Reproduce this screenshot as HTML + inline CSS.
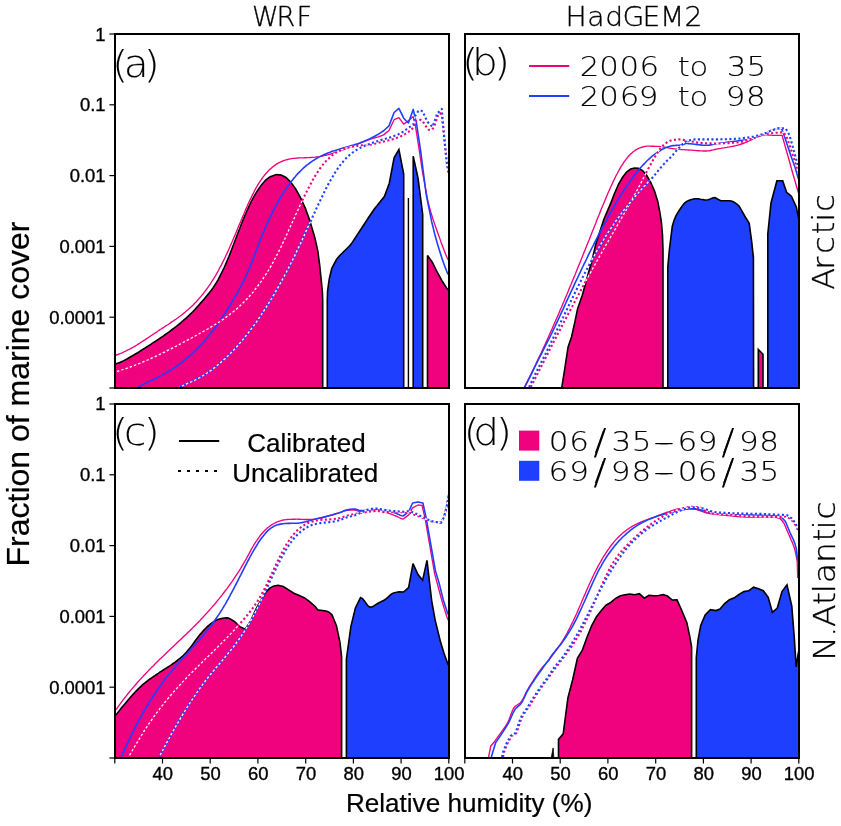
<!DOCTYPE html>
<html lang="en">
<head>
<meta charset="utf-8">
<title>Fraction of marine cover vs relative humidity</title>
<style>
html,body{margin:0;padding:0;background:#fff;}
body{width:841px;height:826px;overflow:hidden;font-family:"Liberation Sans",sans-serif;}
svg{display:block;}
</style>
</head>
<body>
<svg width="841" height="826" viewBox="0 0 841 826" role="img" aria-label="Fraction of marine cover versus relative humidity">
<rect width="841" height="826" fill="#fff"/>
<g id="panel-a">
<clipPath id="clip-a"><rect x="115" y="34" width="334" height="354"/></clipPath>
<g clip-path="url(#clip-a)">
<path d="M115 388 L115 364.3 L116.8 363.6 L118.5 362.9 L120.3 362.2 L122.1 361.4 L123.8 360.6 L125.6 359.7 L127.3 358.8 L129 357.8 L130.7 356.8 L132.5 355.8 L134.2 354.8 L135.9 353.8 L137.7 352.7 L139.4 351.6 L141.1 350.5 L142.8 349.4 L144.6 348.3 L146.3 347.2 L148 346.1 L149.8 345 L151.5 343.9 L153.2 342.7 L154.9 341.6 L156.7 340.5 L158.4 339.3 L160.1 338.1 L161.9 336.9 L163.6 335.8 L165.3 334.5 L167 333.3 L168.8 332.1 L170.5 330.8 L172.2 329.5 L174 328.2 L175.7 326.9 L177.4 325.5 L179.1 324.1 L180.9 322.7 L182.6 321.2 L184.3 319.7 L186.1 318.1 L187.8 316.5 L189.5 314.9 L191.2 313.2 L193 311.5 L194.7 309.7 L196.4 307.8 L198.2 305.9 L199.9 303.9 L201.7 301.9 L203.4 299.9 L205.2 297.8 L206.9 295.7 L211.5 290 L213.2 287.6 L214.8 285.1 L216.5 282.5 L218.2 279.6 L224.2 267.5 L225.7 264.1 L227.2 260.5 L228.8 256.8 L230.3 253 L236.3 237.2 L237.8 233.2 L239.4 229.2 L240.9 225.3 L242.4 221.5 L244.2 217.1 L246.1 212.7 L247.9 208.6 L249.7 204.7 L251.5 201.1 L253.3 197.6 L255.2 194.4 L257 191.4 L258.8 188.7 L260.6 186.1 L262.4 183.7 L264.2 181.7 L265.7 180.2 L267.2 178.8 L268.8 177.6 L270.3 176.7 L276.3 174.5 L281.2 175.1 L286 177.5 L290.8 182.3 L295.7 189 L300.5 197.5 L305.4 208.4 L309.6 220 L314.8 237.5 L317.8 250.8 L319.7 265.4 L321.2 279.9 L322.4 292 L322.7 300 L322.7 388" fill="#f0027f" stroke="#000" stroke-width="1.6" stroke-linejoin="miter" stroke-miterlimit="3"/>
<path d="M327.3 388 L327.3 300 L327.6 290.8 L329.3 278.7 L331.8 268.4 L336.6 259.3 L338.3 257.2 L340 255.3 L341.6 253.7 L343.3 252 L345.1 250.2 L346.9 248.5 L348.7 246.8 L350.5 244.8 L352.3 242.4 L354.1 239.6 L356 236.7 L357.8 233.9 L359.6 231.2 L361.4 228.5 L363.2 225.7 L365 223 L366.7 220.4 L368.4 217.8 L370.1 215.2 L371.8 212.7 L373.5 210.3 L375.1 208.1 L376.8 206.1 L378.4 204 L380 202 L384.5 196.3 L389.3 183.2 L394.1 157.8 L398.9 149.5 L403.7 174.2 L403.7 388" fill="#1f3fff" stroke="#000" stroke-width="1.6" stroke-linejoin="miter" stroke-miterlimit="3"/>
<path d="M413.2 388 L413.2 156.2 L418 178 L422.7 214.5 L422.7 388" fill="#1f3fff" stroke="#000" stroke-width="1.6" stroke-linejoin="miter" stroke-miterlimit="3"/>
<path d="M427.5 388 L427.5 255.4 L432.3 262.2 L437.1 272 L441.8 280.5 L446.6 288 L449 290.5 L449 388" fill="#f0027f" stroke="#000" stroke-width="1.6" stroke-linejoin="miter" stroke-miterlimit="3"/>
<path d="M408.4 388 L408.4 198" stroke="#000" stroke-width="1.4" fill="none"/>
<path d="M115 355.5 L116.4 355 L117.8 354.5 L119.3 353.9 L120.7 353.4 L122.1 352.8 L123.4 352.2 L124.8 351.5 L126.1 350.9 L127.5 350.2 L128.8 349.5 L130.2 348.8 L131.5 348.1 L132.9 347.3 L134.2 346.6 L135.5 345.8 L136.9 345 L138.2 344.1 L139.6 343.3 L140.9 342.4 L142.3 341.5 L143.6 340.6 L145 339.8 L146.3 338.9 L147.6 338 L149 337.1 L150.3 336.2 L151.7 335.3 L153 334.4 L154.4 333.5 L155.7 332.6 L157.1 331.7 L158.4 330.8 L159.7 329.9 L161.1 329 L162.4 328.1 L163.8 327.3 L165.1 326.4 L166.5 325.5 L167.8 324.7 L169.2 323.8 L170.5 322.9 L171.8 321.9 L173.2 321 L174.5 320.1 L175.9 319.2 L177.2 318.2 L178.6 317.2 L179.9 316.2 L181.3 315.2 L182.6 314.2 L183.9 313.1 L185.3 312 L186.6 310.8 L188 309.7 L189.3 308.5 L190.7 307.3 L192 306 L193.4 304.7 L194.7 303.3 L196.1 301.9 L197.5 300.3 L198.9 298.8 L200.3 297.1 L201.8 295.4 L203.2 293.7 L204.6 291.9 L206 290 L207.4 288.1 L208.8 286.2 L210.2 284.1 L211.5 282 L212.9 279.8 L214.3 277.6 L215.7 275.3 L217.1 272.8 L218.5 270.3 L219.9 267.6 L221.4 264.9 L222.8 262.1 L224.2 259.3 L225.4 256.8 L226.6 254.1 L227.9 251.4 L229.1 248.7 L230.3 245.9 L236.3 231.9 L237.5 229 L238.7 226 L240 223.1 L241.2 220.2 L242.4 217.3 L243.9 213.9 L245.3 210.4 L246.8 207.1 L248.2 203.8 L249.7 200.6 L251.2 197.6 L252.6 194.6 L254.1 191.7 L255.5 188.9 L257 186.3 L258.4 183.9 L259.9 181.6 L261.3 179.5 L262.8 177.4 L264.2 175.6 L265.7 173.8 L267.1 172.2 L268.6 170.6 L270 169.2 L271.5 167.9 L272.9 166.7 L274.4 165.6 L275.8 164.6 L277.3 163.7 L278.7 162.9 L280.2 162.2 L281.6 161.5 L283.1 160.9 L284.5 160.4 L286 159.9 L287.5 159.5 L288.9 159.2 L290.4 158.9 L291.8 158.6 L293.3 158.4 L294.7 158.3 L296.2 158.1 L297.6 158 L299.1 157.9 L300.5 157.9 L302 157.8 L303.4 157.8 L304.9 157.7 L306.3 157.7 L307.8 157.6 L309.3 157.6 L310.7 157.5 L312.2 157.4 L313.6 157.3 L315.1 157.2 L316.5 157 L318 156.8 L319.4 156.6 L320.9 156.3 L322.3 156 L323.8 155.7 L325.2 155.4 L326.7 155 L328.1 154.7 L329.6 154.3 L331.1 153.8 L332.6 153.4 L334.1 152.9 L335.5 152.4 L337 151.9 L338.5 151.4 L340 150.9 L341.4 150.3 L342.9 149.8 L344.3 149.3 L345.7 148.7 L347.1 148.2 L348.6 147.6 L350 147 L351.4 146.5 L352.9 145.9 L354.3 145.3 L355.7 144.8 L357.1 144.2 L358.6 143.6 L360 143.1 L361.4 142.5 L362.9 142 L364.3 141.4 L365.7 140.9 L367.1 140.3 L368.6 139.8 L370 139.3 L371.4 138.8 L372.8 138.4 L374.2 138 L375.6 137.6 L376.9 137.2 L378.3 136.8 L379.7 136.3 L381.1 135.8 L382.5 135.3 L383.9 134.6 L389 130.5 L394.1 119.7 L398.9 117.6 L403.7 124.1 L408.4 120.7 L413.2 116.6 L415.3 124.8 L419.3 150.6 L422.6 172.7 L428 201.7 L429.5 207.5 L431 212.8 L432.5 217.6 L434 222.1 L435.5 226.5 L437 230.8 L438.4 234.8 L439.8 238.6 L441.1 242.4 L442.5 246.1 L443.9 249.7 L445.2 253.2 L446.6 256.6 L448 259.8" fill="none" stroke="#f0027f" stroke-width="1.35" stroke-linejoin="round"/>
<path d="M138 387 L139.4 386.3 L140.8 385.6 L142.2 384.9 L143.6 384.2 L145 383.5 L146.4 382.9 L147.7 382.2 L149.1 381.6 L150.4 381 L151.8 380.4 L153.1 379.7 L154.4 379.1 L155.8 378.4 L157.1 377.8 L158.4 377.1 L159.7 376.4 L161.1 375.6 L162.4 374.9 L163.8 374.2 L165.1 373.4 L166.5 372.6 L167.8 371.8 L169.2 371 L170.5 370.2 L171.8 369.4 L173.2 368.5 L174.5 367.6 L175.9 366.7 L177.2 365.8 L178.6 364.8 L179.9 363.8 L181.3 362.8 L182.6 361.8 L183.9 360.7 L185.3 359.7 L186.6 358.5 L188 357.4 L189.3 356.2 L190.7 355 L192 353.8 L193.4 352.6 L194.7 351.3 L200 346 L201.4 344.5 L202.8 342.9 L204.1 341.4 L205.5 339.8 L206.9 338.2 L212.1 331.6 L213.6 329.7 L215 327.7 L216.5 325.7 L217.9 323.7 L219.4 321.6 L220.8 319.5 L222.2 317.4 L223.6 315.3 L225 313.2 L226.4 311 L227.8 308.8 L229.3 306.4 L230.7 304.1 L232.2 301.6 L233.6 299.2 L235.1 296.7 L239.3 289.4 L240.6 286.9 L241.9 284.4 L243.2 281.8 L244.5 279.2 L245.8 276.5 L247.1 273.7 L248.4 270.8 L249.6 267.9 L250.8 264.8 L252.1 261.7 L253.3 258.5 L254.5 255.3 L260.5 239.5 L261.7 236.4 L262.9 233.4 L264.2 230.5 L265.4 227.6 L266.6 224.8 L269.1 219.3 L270.5 216.2 L272 213.3 L273.4 210.4 L274.9 207.6 L276.3 204.8 L277.8 202.2 L279.2 199.6 L280.7 197.1 L282.1 194.7 L283.6 192.4 L285 190.2 L286.5 188.1 L287.9 186 L289.4 184 L290.8 182.1 L292.3 180.2 L293.7 178.4 L295.2 176.7 L296.6 175 L298.1 173.4 L299.6 171.9 L301 170.5 L302.5 169 L303.9 167.7 L305.4 166.4 L306.8 165.2 L308.3 164.1 L309.7 163 L311.2 161.9 L312.6 160.9 L314.1 160 L315.5 159.1 L317 158.2 L318.4 157.4 L319.9 156.6 L321.4 155.9 L322.8 155.2 L324.3 154.5 L325.7 153.9 L327.2 153.3 L328.6 152.7 L330.1 152.2 L331.5 151.6 L333 151.1 L334.4 150.7 L340 148.9 L341.4 148.5 L342.9 148.1 L344.3 147.7 L345.7 147.3 L347.1 146.9 L348.6 146.5 L350 146.1 L351.4 145.6 L352.9 145.2 L354.3 144.8 L355.7 144.3 L357.1 143.9 L358.6 143.4 L360 142.9 L361.4 142.3 L362.9 141.8 L364.3 141.2 L365.7 140.6 L367.1 139.9 L368.6 139.3 L370 138.6 L371.4 137.9 L372.8 137.2 L374.2 136.5 L375.6 135.7 L376.9 135 L378.3 134.2 L379.7 133.3 L381.1 132.4 L382.5 131.5 L383.9 130.5 L389 125.9 L394.1 112.5 L398.9 108.4 L403.7 118.2 L408.4 123 L413.2 109.4 L416.6 124 L420.6 150.6 L426.2 194.5 L431.7 221.7 L433.2 227.8 L434.6 233.6 L436.1 239 L437.5 244.1 L439 249 L440.5 253.8 L442 258.4 L443.5 262.7 L445 266.9 L446.5 270.8 L448 274.4" fill="none" stroke="#1f3fff" stroke-width="1.6" stroke-linejoin="round"/>
<path d="M115 372.2 L117.3 371.4 L118.7 370.9 L120.1 370.5 L121.5 370 L122.9 369.5 L124.3 369 L125.8 368.6 L127.2 368.1 L128.6 367.6 L130 367.1 L131.4 366.6 L132.8 366.1 L134.2 365.5 L135.5 365 L136.9 364.5 L138.2 363.9 L139.6 363.4 L140.9 362.8 L142.3 362.3 L143.6 361.7 L145 361.1 L146.3 360.5 L147.6 360 L149 359.4 L150.3 358.8 L151.7 358.1 L153 357.5 L154.4 356.9 L155.7 356.3 L157.1 355.7 L158.4 355 L159.7 354.4 L161.1 353.7 L162.4 353.1 L163.8 352.4 L165.1 351.8 L166.5 351.1 L167.8 350.4 L169.2 349.7 L170.5 349.1 L171.8 348.4 L173.2 347.7 L174.5 347 L175.9 346.3 L177.2 345.6 L178.6 344.9 L179.9 344.2 L181.3 343.5 L182.6 342.7 L183.9 342 L185.3 341.3 L186.6 340.6 L188 339.9 L189.3 339.1 L190.7 338.4 L192 337.7 L193.4 336.9 L194.7 336.2 L200 333.2 L201.3 332.5 L202.7 331.7 L204 331 L205.4 330.2 L206.7 329.5 L208.1 328.7 L209.4 327.9 L210.8 327.1 L212.1 326.3 L213.4 325.5 L214.8 324.7 L216.1 323.9 L217.5 323 L218.8 322.2 L220.2 321.3 L221.5 320.4 L222.9 319.5 L224.2 318.6 L225.5 317.6 L226.9 316.6 L228.2 315.6 L229.6 314.6 L230.9 313.6 L232.3 312.5 L233.6 311.4 L235 310.3 L236.3 309.2 L237.6 308 L239 306.8 L240.3 305.5 L241.7 304.2 L243 302.9 L244.4 301.6 L245.7 300.2 L247.1 298.8 L248.4 297.4 L249.6 296 L250.8 294.6 L252.1 293.2 L253.3 291.8 L254.5 290.2 L255.8 288.5 L257.2 286.8 L258.5 285 L259.9 283.1 L261.2 281.3 L262.6 279.3 L263.9 277.3 L265.3 275.3 L266.6 273.2 L268 271 L269.4 268.6 L270.9 266.2 L272.3 263.7 L273.7 261.1 L275.1 258.5 L276.5 255.8 L278 253 L279.4 250.1 L280.9 247.1 L282.3 244.1 L283.8 241 L285.2 237.9 L286.7 234.7 L288.1 231.5 L289.6 228.3 L294.5 217.5 L295.9 214.3 L297.4 211.2 L298.8 208 L300.3 204.9 L301.7 201.8 L302.9 199.3 L304.1 196.7 L305.4 194.2 L306.6 191.8 L307.8 189.3 L313.8 178.2 L315 176.2 L316.2 174.2 L317.5 172.2 L318.7 170.4 L319.9 168.6 L321.1 167 L322.3 165.4 L323.6 163.9 L324.8 162.4 L326 161.1 L332 155.5 L333.3 154.6 L334.7 153.6 L336 152.7 L337.3 151.9 L338.7 151.1 L340 150.5 L341.4 149.9 L342.9 149.3 L344.3 148.7 L345.7 148.2 L347.1 147.8 L348.6 147.4 L350 147 L351.4 146.7 L352.9 146.5 L354.3 146.3 L355.7 146.1 L357.1 145.9 L358.6 145.7 L360 145.5 L361.4 145.4 L362.9 145.3 L364.3 145.2 L365.7 145.1 L367.1 145 L368.6 144.8 L370 144.7 L371.5 144.4 L372.9 144.2 L374.4 143.8 L375.9 143.4 L377.4 143.1 L378.8 142.7 L380.3 142.3 L381.8 142 L383.2 141.6 L384.7 141.3 L386.2 140.9 L387.7 140.6 L389.1 140.2 L390.6 139.8 L392.1 139.4 L393.5 138.9 L395 138.4 L396.5 137.9 L398 137.4 L399.4 136.8 L400.9 136.2 L402.4 135.5 L403.9 134.7 L405.4 133.9 L406.9 133 L408.4 132 L413.2 127.9 L415.3 121.2 L420.4 119.7 L422.7 121.2 L425.6 125.9 L428.7 129.8 L432.3 129.5 L434.8 124.8 L437.9 115.6 L440 113 L442 115.6 L443.6 131 L445.1 146.5 L446.7 161.9 L448.7 173.2" fill="none" stroke="#fff" stroke-width="1.3" stroke-linejoin="round"/>
<path d="M115 372.2 L117.3 371.4 L118.7 370.9 L120.1 370.5 L121.5 370 L122.9 369.5 L124.3 369 L125.8 368.6 L127.2 368.1 L128.6 367.6 L130 367.1 L131.4 366.6 L132.8 366.1 L134.2 365.5 L135.5 365 L136.9 364.5 L138.2 363.9 L139.6 363.4 L140.9 362.8 L142.3 362.3 L143.6 361.7 L145 361.1 L146.3 360.5 L147.6 360 L149 359.4 L150.3 358.8 L151.7 358.1 L153 357.5 L154.4 356.9 L155.7 356.3 L157.1 355.7 L158.4 355 L159.7 354.4 L161.1 353.7 L162.4 353.1 L163.8 352.4 L165.1 351.8 L166.5 351.1 L167.8 350.4 L169.2 349.7 L170.5 349.1 L171.8 348.4 L173.2 347.7 L174.5 347 L175.9 346.3 L177.2 345.6 L178.6 344.9 L179.9 344.2 L181.3 343.5 L182.6 342.7 L183.9 342 L185.3 341.3 L186.6 340.6 L188 339.9 L189.3 339.1 L190.7 338.4 L192 337.7 L193.4 336.9 L194.7 336.2 L200 333.2 L201.3 332.5 L202.7 331.7 L204 331 L205.4 330.2 L206.7 329.5 L208.1 328.7 L209.4 327.9 L210.8 327.1 L212.1 326.3 L213.4 325.5 L214.8 324.7 L216.1 323.9 L217.5 323 L218.8 322.2 L220.2 321.3 L221.5 320.4 L222.9 319.5 L224.2 318.6 L225.5 317.6 L226.9 316.6 L228.2 315.6 L229.6 314.6 L230.9 313.6 L232.3 312.5 L233.6 311.4 L235 310.3 L236.3 309.2 L237.6 308 L239 306.8 L240.3 305.5 L241.7 304.2 L243 302.9 L244.4 301.6 L245.7 300.2 L247.1 298.8 L248.4 297.4 L249.6 296 L250.8 294.6 L252.1 293.2 L253.3 291.8 L254.5 290.2 L255.8 288.5 L257.2 286.8 L258.5 285 L259.9 283.1 L261.2 281.3 L262.6 279.3 L263.9 277.3 L265.3 275.3 L266.6 273.2 L268 271 L269.4 268.6 L270.9 266.2 L272.3 263.7 L273.7 261.1 L275.1 258.5 L276.5 255.8 L278 253 L279.4 250.1 L280.9 247.1 L282.3 244.1 L283.8 241 L285.2 237.9 L286.7 234.7 L288.1 231.5 L289.6 228.3 L294.5 217.5 L295.9 214.3 L297.4 211.2 L298.8 208 L300.3 204.9 L301.7 201.8 L302.9 199.3 L304.1 196.7 L305.4 194.2 L306.6 191.8 L307.8 189.3 L313.8 178.2 L315 176.2 L316.2 174.2 L317.5 172.2 L318.7 170.4 L319.9 168.6 L321.1 167 L322.3 165.4 L323.6 163.9 L324.8 162.4 L326 161.1 L332 155.5 L333.3 154.6 L334.7 153.6 L336 152.7 L337.3 151.9 L338.7 151.1 L340 150.5 L341.4 149.9 L342.9 149.3 L344.3 148.7 L345.7 148.2 L347.1 147.8 L348.6 147.4 L350 147 L351.4 146.7 L352.9 146.5 L354.3 146.3 L355.7 146.1 L357.1 145.9 L358.6 145.7 L360 145.5 L361.4 145.4 L362.9 145.3 L364.3 145.2 L365.7 145.1 L367.1 145 L368.6 144.8 L370 144.7 L371.5 144.4 L372.9 144.2 L374.4 143.8 L375.9 143.4 L377.4 143.1 L378.8 142.7 L380.3 142.3 L381.8 142 L383.2 141.6 L384.7 141.3 L386.2 140.9 L387.7 140.6 L389.1 140.2 L390.6 139.8 L392.1 139.4 L393.5 138.9 L395 138.4 L396.5 137.9 L398 137.4 L399.4 136.8 L400.9 136.2 L402.4 135.5 L403.9 134.7 L405.4 133.9 L406.9 133 L408.4 132 L413.2 127.9 L415.3 121.2 L420.4 119.7 L422.7 121.2 L425.6 125.9 L428.7 129.8 L432.3 129.5 L434.8 124.8 L437.9 115.6 L440 113 L442 115.6 L443.6 131 L445.1 146.5 L446.7 161.9 L448.7 173.2" fill="none" stroke="#f0027f" stroke-width="2.1" stroke-dasharray="2.1 2.4" stroke-linejoin="round"/>
<path d="M180 387 L181.4 386.3 L182.8 385.7 L184.2 385 L185.6 384.4 L187 383.7 L188.3 383.1 L189.6 382.6 L190.8 382 L192.1 381.5 L193.4 380.9 L194.7 380.3 L200 377.5 L201.3 376.7 L202.7 375.8 L204 375 L205.4 374.1 L206.7 373.3 L208.1 372.3 L209.4 371.4 L210.8 370.5 L212.1 369.5 L213.4 368.5 L214.8 367.4 L216.1 366.4 L217.5 365.3 L218.8 364.1 L220.2 363 L221.5 361.8 L222.9 360.6 L224.2 359.4 L225.5 358.2 L226.9 356.9 L228.2 355.6 L229.6 354.2 L230.9 352.9 L232.3 351.5 L233.6 350.1 L235 348.6 L236.3 347.2 L237.6 345.7 L239 344.1 L240.3 342.6 L241.7 341 L243 339.4 L244.4 337.7 L245.7 336.1 L247.1 334.4 L248.4 332.7 L249.7 330.9 L251.1 329.2 L252.4 327.4 L253.8 325.5 L255.1 323.6 L256.5 321.8 L257.8 319.8 L259.2 317.9 L260.5 315.9 L261.8 313.9 L263.2 311.9 L264.5 309.8 L265.9 307.7 L267.2 305.6 L268.6 303.4 L269.9 301.2 L271.3 299 L272.6 296.8 L276.9 289.4 L278.2 287.1 L279.5 284.8 L280.8 282.5 L282.1 280.1 L283.4 277.7 L284.7 275.3 L286.2 272.5 L287.6 269.7 L289.1 266.9 L290.5 264 L292 261.1 L293.3 258.5 L294.6 255.9 L295.9 253.3 L297.1 250.6 L298.4 247.9 L299.7 245.2 L301.1 242.2 L302.5 239.2 L303.9 236.2 L305.2 233.1 L306.6 230.1 L308 227 L309.4 224 L310.8 221 L312.1 218 L313.4 215 L314.8 212.1 L316.1 209.1 L317.5 206.2 L323.5 193.7 L324.7 191.2 L325.9 188.8 L327.2 186.4 L328.4 184.1 L329.6 181.9 L335.6 171.7 L340 165.3 L345 159.3 L350 154.6 L351.3 153.5 L352.7 152.5 L354 151.5 L355.4 150.6 L356.7 149.8 L358 149 L359.3 148.3 L360.7 147.6 L362 147 L363.3 146.4 L364.6 145.8 L366 145.2 L367.3 144.7 L368.7 144.2 L370 143.7 L371.5 143.2 L372.9 142.7 L374.4 142.2 L375.9 141.7 L377.4 141.2 L378.8 140.8 L380.3 140.3 L381.8 139.8 L383.2 139.4 L384.7 139 L386.2 138.6 L387.7 138.1 L389.1 137.7 L390.6 137.2 L392.1 136.7 L393.5 136.2 L395 135.6 L396.5 135.1 L398 134.5 L399.4 133.8 L400.9 133.1 L402.4 132.2 L403.9 131.2 L405.4 130.1 L406.9 129 L408.4 127.9 L413.2 124.8 L415.3 115.6 L418 111.5 L420.4 110.2 L422.7 111.5 L425 116.6 L427.5 121.8 L432.3 126.9 L434.8 120.7 L437.1 113.5 L441.8 108.9 L442.5 118.7 L443.6 131 L445.1 146.5 L446.7 161.9 L448.7 173.2" fill="none" stroke="#fff" stroke-width="1.3" stroke-linejoin="round"/>
<path d="M180 387 L181.4 386.3 L182.8 385.7 L184.2 385 L185.6 384.4 L187 383.7 L188.3 383.1 L189.6 382.6 L190.8 382 L192.1 381.5 L193.4 380.9 L194.7 380.3 L200 377.5 L201.3 376.7 L202.7 375.8 L204 375 L205.4 374.1 L206.7 373.3 L208.1 372.3 L209.4 371.4 L210.8 370.5 L212.1 369.5 L213.4 368.5 L214.8 367.4 L216.1 366.4 L217.5 365.3 L218.8 364.1 L220.2 363 L221.5 361.8 L222.9 360.6 L224.2 359.4 L225.5 358.2 L226.9 356.9 L228.2 355.6 L229.6 354.2 L230.9 352.9 L232.3 351.5 L233.6 350.1 L235 348.6 L236.3 347.2 L237.6 345.7 L239 344.1 L240.3 342.6 L241.7 341 L243 339.4 L244.4 337.7 L245.7 336.1 L247.1 334.4 L248.4 332.7 L249.7 330.9 L251.1 329.2 L252.4 327.4 L253.8 325.5 L255.1 323.6 L256.5 321.8 L257.8 319.8 L259.2 317.9 L260.5 315.9 L261.8 313.9 L263.2 311.9 L264.5 309.8 L265.9 307.7 L267.2 305.6 L268.6 303.4 L269.9 301.2 L271.3 299 L272.6 296.8 L276.9 289.4 L278.2 287.1 L279.5 284.8 L280.8 282.5 L282.1 280.1 L283.4 277.7 L284.7 275.3 L286.2 272.5 L287.6 269.7 L289.1 266.9 L290.5 264 L292 261.1 L293.3 258.5 L294.6 255.9 L295.9 253.3 L297.1 250.6 L298.4 247.9 L299.7 245.2 L301.1 242.2 L302.5 239.2 L303.9 236.2 L305.2 233.1 L306.6 230.1 L308 227 L309.4 224 L310.8 221 L312.1 218 L313.4 215 L314.8 212.1 L316.1 209.1 L317.5 206.2 L323.5 193.7 L324.7 191.2 L325.9 188.8 L327.2 186.4 L328.4 184.1 L329.6 181.9 L335.6 171.7 L340 165.3 L345 159.3 L350 154.6 L351.3 153.5 L352.7 152.5 L354 151.5 L355.4 150.6 L356.7 149.8 L358 149 L359.3 148.3 L360.7 147.6 L362 147 L363.3 146.4 L364.6 145.8 L366 145.2 L367.3 144.7 L368.7 144.2 L370 143.7 L371.5 143.2 L372.9 142.7 L374.4 142.2 L375.9 141.7 L377.4 141.2 L378.8 140.8 L380.3 140.3 L381.8 139.8 L383.2 139.4 L384.7 139 L386.2 138.6 L387.7 138.1 L389.1 137.7 L390.6 137.2 L392.1 136.7 L393.5 136.2 L395 135.6 L396.5 135.1 L398 134.5 L399.4 133.8 L400.9 133.1 L402.4 132.2 L403.9 131.2 L405.4 130.1 L406.9 129 L408.4 127.9 L413.2 124.8 L415.3 115.6 L418 111.5 L420.4 110.2 L422.7 111.5 L425 116.6 L427.5 121.8 L432.3 126.9 L434.8 120.7 L437.1 113.5 L441.8 108.9 L442.5 118.7 L443.6 131 L445.1 146.5 L446.7 161.9 L448.7 173.2" fill="none" stroke="#1f3fff" stroke-width="2.1" stroke-dasharray="2.1 2.4" stroke-linejoin="round"/>
</g>
<rect x="115" y="34" width="334" height="354" fill="none" stroke="#000" stroke-width="2"/>
</g>
<g id="panel-b">
<clipPath id="clip-b"><rect x="465" y="34" width="334" height="354"/></clipPath>
<g clip-path="url(#clip-b)">
<path d="M561.7 388 L564.2 372.4 L566.4 358 L568.1 346.9 L571.5 337 L574.9 321.9 L577.6 308.6 L582.3 295.3 L585.6 283.3 L588.9 271.3 L592.2 259.5 L596 243.2 L600 231.2 L603.9 219.2 L607.9 209.9 L611.3 201.9 L614.6 193.3 L618.6 184 L622.6 177.3 L626.6 172 L630.6 169 L634.6 168 L638.6 168.4 L642.6 170.6 L646.6 175.3 L650.6 182 L654.6 191.3 L657.9 201.9 L659.9 212.6 L661.5 223.2 L662.5 235.2 L663 250 L663 388" fill="#f0027f" stroke="#000" stroke-width="1.6" stroke-linejoin="miter" stroke-miterlimit="3"/>
<path d="M667.8 388 L667.8 267 L669.4 249.5 L672.3 226.2 L674 220.6 L675.6 216.5 L677.3 213.4 L679 210.7 L681 207.7 L682.9 205 L684.8 202.8 L686.8 201.4 L688.7 200.5 L690.7 199.8 L692.6 199.2 L694.6 198.8 L696.5 198.7 L698.4 198.8 L700.4 199.2 L702.3 199.5 L704.3 199.9 L706.2 200 L707.9 199.8 L709.7 199.2 L711.4 198.4 L713.2 197.8 L714.9 197.6 L720.7 200.7 L722.4 200.7 L724.2 200.7 L725.9 200.7 L727.7 200.7 L729.4 200.7 L731.3 201 L733.2 201.7 L735.2 202.9 L737.1 204.3 L739 205.9 L745 216.5 L749.2 223.3 L751.7 241.7 L753.4 257.4 L753.6 388" fill="#1f3fff" stroke="#000" stroke-width="1.6" stroke-linejoin="miter" stroke-miterlimit="3"/>
<path d="M758.3 388 L758.3 349.4 L763 354.3 L763 388" fill="#f0027f" stroke="#000" stroke-width="1.6" stroke-linejoin="miter" stroke-miterlimit="3"/>
<path d="M767.8 388 L767.8 234 L771 203 L776.9 180.7 L782.7 180.7 L786.6 192.3 L791.4 196.2 L796.3 206.9 L799 220 L799 388" fill="#1f3fff" stroke="#000" stroke-width="1.6" stroke-linejoin="miter" stroke-miterlimit="3"/>
<path d="M524.4 387 L529.5 377.1 L535.4 365.1 L536.8 362.1 L538.2 359.1 L539.6 356.1 L541.1 353.1 L542.5 350 L543.9 347 L548.3 337.3 L549.6 334.3 L550.9 331.3 L552.3 328.3 L553.6 325.3 L554.9 322.3 L556.2 319.3 L557.6 316.2 L558.9 313.2 L560.2 310.1 L561.6 306.9 L562.9 303.8 L564.3 300.6 L565.6 297.4 L567 294.2 L568.3 291 L569.6 287.8 L571 284.6 L572.3 281.3 L573.6 278.1 L575 274.9 L576.3 271.6 L580.6 261 L586.6 246.1 L587.9 242.8 L589.3 239.4 L590.6 236 L592 232.6 L593.3 229.3 L594.6 225.9 L596 222.5 L597.3 219.1 L598.7 215.7 L600 212.4 L601.3 209.1 L602.6 205.9 L604 202.7 L605.3 199.5 L606.6 196.4 L607.9 193.3 L609.3 190.2 L610.6 187.2 L612 184.2 L613.3 181.4 L614.6 178.7 L615.9 176 L617.3 173.5 L618.6 171 L619.9 168.7 L621.2 166.4 L622.6 164.3 L623.9 162.2 L625.3 160.3 L626.6 158.6 L627.9 157 L629.2 155.5 L630.6 154.1 L631.9 152.9 L633.2 151.8 L634.6 150.8 L635.9 149.9 L637.3 149.1 L638.6 148.4 L640 147.9 L641.4 147.4 L642.7 147 L644.1 146.7 L645.5 146.4 L646.8 146.2 L648.2 146.1 L649.6 146.1 L650.9 146.2 L652.3 146.2 L653.7 146.2 L655 146.3 L656.4 146.3 L657.8 146.4 L659.1 146.5 L660.5 146.6 L661.9 146.8 L663.2 147 L664.6 147.2 L669.4 148.2 L670.9 148.4 L672.4 148.6 L673.9 148.8 L675.3 148.9 L676.8 149.1 L678.3 149.2 L679.8 149.3 L681.3 149.5 L682.8 149.6 L684.2 149.7 L685.7 149.8 L687.2 149.9 L688.7 150 L690.2 150.1 L691.6 150.2 L693.1 150.3 L694.5 150.4 L696 150.6 L697.5 150.7 L698.9 150.7 L700.4 150.8 L701.8 150.9 L703.3 151 L704.7 151 L706.2 151 L707.7 150.9 L709.1 150.8 L710.5 150.5 L712 150.2 L713.5 149.9 L714.9 149.5 L716.3 149.2 L717.8 148.9 L719.3 148.6 L720.8 148.4 L722.3 148.1 L723.8 147.9 L725.3 147.6 L726.8 147.4 L728.2 147.1 L729.7 146.9 L731.2 146.6 L732.7 146.3 L734.2 146 L735.7 145.7 L737.2 145.3 L738.6 144.9 L740 144.5 L741.4 144 L742.9 143.5 L744.3 143 L745.7 142.4 L747.1 141.8 L748.5 141.2 L749.9 140.5 L751.3 139.8 L752.7 139 L754.1 138.2 L755.5 137.5 L756.9 136.9 L758.2 136.4 L759.5 136 L760.8 135.5 L762 135.1 L763.3 134.9 L764.6 134.8 L765.9 134.8 L767.3 134.9 L768.6 135 L769.9 135.1 L771.2 135.2 L772.6 135.3 L773.9 135.3 L775.3 135.3 L776.6 135.3 L778 135.3 L779.4 135.3 L780.7 135.3 L782.1 135.3 L784.9 145.4 L788.3 157.3 L792.5 172.5 L797.6 190 L798.8 194" fill="none" stroke="#f0027f" stroke-width="1.35" stroke-linejoin="round"/>
<path d="M524.9 387 L529.9 377.1 L531.1 374.6 L532.3 372.1 L533.6 369.5 L534.8 367 L536 364.5 L537.4 361.6 L538.8 358.8 L540.2 356.1 L541.7 353.3 L543.1 350.5 L544.5 347.7 L549.6 337.7 L550.9 335 L552.3 332.2 L553.6 329.4 L555 326.5 L556.3 323.6 L557.6 320.8 L559 317.9 L560.3 315 L561.6 312.1 L563 309.3 L564.3 306.4 L565.6 303.5 L566.9 300.6 L568.3 297.7 L569.6 294.8 L570.9 292 L572.3 289.1 L573.6 286.3 L574.9 283.4 L576.2 280.6 L577.6 277.8 L578.9 275 L580.2 272.3 L581.4 269.6 L582.7 267 L583.9 264.4 L585.2 261.8 L586.6 259 L587.9 256.2 L589.2 253.4 L590.6 250.7 L591.9 248 L593.3 245.3 L594.6 242.6 L596 240 L597.3 237.3 L598.7 234.7 L600 232.1 L601.3 229.6 L602.6 227.1 L604 224.6 L605.3 222.2 L606.6 219.7 L607.9 217.3 L609.3 214.9 L610.6 212.5 L612 210.1 L613.3 207.8 L614.6 205.5 L615.9 203.2 L617.3 201 L618.6 198.9 L619.9 196.7 L621.2 194.6 L622.6 192.4 L623.9 190.4 L625.3 188.3 L626.6 186.3 L627.9 184.4 L629.2 182.5 L630.6 180.6 L631.9 178.8 L633.2 177 L634.5 175.2 L635.9 173.5 L637.2 171.8 L638.6 170.2 L639.9 168.6 L641.2 167 L642.6 165.5 L643.9 164.1 L645.3 162.7 L646.6 161.3 L647.9 160 L649.2 158.8 L650.6 157.6 L651.9 156.4 L653.2 155.3 L654.5 154.3 L655.9 153.3 L657.2 152.4 L658.6 151.5 L659.9 150.7 L661.1 150 L662.3 149.3 L663.6 148.7 L664.8 148.1 L666 147.6 L672 145.8 L673.4 145.6 L674.9 145.5 L676.3 145.4 L677.7 145.3 L679.1 145.2 L680.6 145.1 L682 144.9 L685.8 143.5 L687.3 143.5 L688.7 143.6 L690.2 143.7 L691.6 143.9 L693.1 144 L694.5 144.2 L696 144.4 L697.5 144.6 L698.9 144.8 L700.4 144.9 L701.8 145.1 L703.3 145.2 L704.7 145.3 L706.2 145.3 L707.7 145.2 L709.1 145.1 L710.5 144.9 L712 144.6 L713.5 144.3 L714.9 144 L716.3 143.7 L717.8 143.5 L719.3 143.3 L720.8 143.1 L722.3 142.9 L723.8 142.7 L725.3 142.5 L726.8 142.3 L728.2 142.1 L729.7 142 L731.2 141.8 L732.7 141.6 L734.2 141.4 L735.7 141.2 L737.2 141 L738.7 140.8 L740.2 140.6 L741.7 140.4 L743.2 140.2 L744.7 140 L746.2 139.8 L747.7 139.6 L749.2 139.3 L750.7 139 L752.2 138.6 L753.6 138.2 L755 137.7 L756.5 137.2 L758 136.6 L759.4 136 L760.8 135.4 L762.3 134.8 L763.7 134.2 L765.1 133.5 L766.5 132.9 L767.8 132.2 L769.2 131.5 L770.6 130.9 L772 130.3 L777.3 128.5 L781.5 128.5 L784.1 135.3 L787.5 145.4 L790.8 155.6 L795.1 167.5 L798.5 179.3" fill="none" stroke="#1f3fff" stroke-width="1.6" stroke-linejoin="round"/>
<path d="M530.8 387 L532.2 384.2 L533.7 381.3 L535.1 378.5 L536.6 375.7 L538 372.8 L539.4 370.1 L540.8 367.3 L542.2 364.5 L543.6 361.8 L545 359 L546.4 356.3 L547.7 353.7 L549 351.2 L550.2 348.7 L551.5 346.2 L552.8 343.7 L554.1 341.2 L556.3 337 L557.6 334.4 L558.9 331.8 L560.3 329.3 L561.6 326.7 L562.9 324.2 L564.2 321.6 L565.6 319.1 L566.9 316.6 L568.2 314 L569.6 311.5 L570.9 308.9 L572.3 306.4 L573.6 303.8 L575 301.3 L576.3 298.8 L577.6 296.3 L578.9 293.9 L580.2 291.4 L581.6 289 L582.9 286.5 L584.2 284.1 L585.5 281.7 L586.9 279.2 L588.2 276.8 L589.5 274.3 L590.9 271.9 L592.2 269.5 L598 259.1 L604 248.5 L605.3 246.2 L606.6 243.9 L608 241.6 L609.3 239.3 L610.6 237 L611.9 234.7 L613.3 232.4 L614.6 230.1 L616 227.8 L617.3 225.4 L618.6 223.2 L619.9 220.9 L621.3 218.6 L622.6 216.3 L623.9 214 L625.2 211.6 L626.6 209.2 L627.9 206.9 L629.3 204.5 L630.6 202.1 L631.9 199.7 L633.2 197.3 L634.6 194.8 L635.9 192.4 L637.2 190 L642.6 179.7 L646.6 172.1 L647.9 169.5 L649.2 167 L650.6 164.5 L651.9 162 L653.2 159.7 L659.2 150 L663.6 144.9 L664.9 143.9 L666.2 142.9 L667.5 142.1 L668.7 141.4 L670 140.8 L671.3 140.4 L672.6 140.1 L673.9 139.9 L675.1 139.7 L676.4 139.5 L677.7 139.4 L679 139.4 L680.4 139.5 L681.8 139.6 L683.2 139.9 L684.5 140.1 L685.9 140.5 L687.3 140.7 L688.7 141 L690.2 141.3 L691.6 141.5 L693.1 141.8 L694.5 142.1 L696 142.4 L697.5 142.6 L698.9 142.8 L700.4 142.9 L701.8 143 L703.2 143.1 L704.6 143.2 L706 143.2 L707.4 143.3 L708.9 143.4 L710.3 143.4 L711.7 143.4 L713.1 143.5 L714.5 143.5 L715.9 143.5 L717.3 143.5 L718.7 143.5 L720.2 143.5 L721.6 143.4 L723 143.4 L724.4 143.3 L725.8 143.3 L727.3 143.2 L728.7 143.1 L730.1 143 L731.5 142.9 L732.9 142.8 L734.4 142.7 L735.8 142.6 L737.2 142.5 L738.7 142.3 L740.2 142.1 L741.7 141.7 L743.2 141.3 L744.7 140.9 L746.2 140.4 L747.7 139.9 L749.2 139.5 L750.7 139 L752.2 138.5 L753.6 138 L755 137.4 L756.5 136.8 L758 136.2 L759.4 135.7 L760.8 135.2 L762.3 134.8 L763.7 134.5 L765.1 134.2 L766.5 134 L767.8 133.7 L769.2 133.5 L770.6 133.4 L772 133.2 L773.5 133 L774.9 132.9 L776.4 132.7 L777.9 132.6 L779.3 132.5 L780.8 132.4 L782.2 132.3 L783.7 132.3 L787.5 139 L793.3 156.5 L798.5 172" fill="none" stroke="#fff" stroke-width="1.3" stroke-linejoin="round"/>
<path d="M530.8 387 L532.2 384.2 L533.7 381.3 L535.1 378.5 L536.6 375.7 L538 372.8 L539.4 370.1 L540.8 367.3 L542.2 364.5 L543.6 361.8 L545 359 L546.4 356.3 L547.7 353.7 L549 351.2 L550.2 348.7 L551.5 346.2 L552.8 343.7 L554.1 341.2 L556.3 337 L557.6 334.4 L558.9 331.8 L560.3 329.3 L561.6 326.7 L562.9 324.2 L564.2 321.6 L565.6 319.1 L566.9 316.6 L568.2 314 L569.6 311.5 L570.9 308.9 L572.3 306.4 L573.6 303.8 L575 301.3 L576.3 298.8 L577.6 296.3 L578.9 293.9 L580.2 291.4 L581.6 289 L582.9 286.5 L584.2 284.1 L585.5 281.7 L586.9 279.2 L588.2 276.8 L589.5 274.3 L590.9 271.9 L592.2 269.5 L598 259.1 L604 248.5 L605.3 246.2 L606.6 243.9 L608 241.6 L609.3 239.3 L610.6 237 L611.9 234.7 L613.3 232.4 L614.6 230.1 L616 227.8 L617.3 225.4 L618.6 223.2 L619.9 220.9 L621.3 218.6 L622.6 216.3 L623.9 214 L625.2 211.6 L626.6 209.2 L627.9 206.9 L629.3 204.5 L630.6 202.1 L631.9 199.7 L633.2 197.3 L634.6 194.8 L635.9 192.4 L637.2 190 L642.6 179.7 L646.6 172.1 L647.9 169.5 L649.2 167 L650.6 164.5 L651.9 162 L653.2 159.7 L659.2 150 L663.6 144.9 L664.9 143.9 L666.2 142.9 L667.5 142.1 L668.7 141.4 L670 140.8 L671.3 140.4 L672.6 140.1 L673.9 139.9 L675.1 139.7 L676.4 139.5 L677.7 139.4 L679 139.4 L680.4 139.5 L681.8 139.6 L683.2 139.9 L684.5 140.1 L685.9 140.5 L687.3 140.7 L688.7 141 L690.2 141.3 L691.6 141.5 L693.1 141.8 L694.5 142.1 L696 142.4 L697.5 142.6 L698.9 142.8 L700.4 142.9 L701.8 143 L703.2 143.1 L704.6 143.2 L706 143.2 L707.4 143.3 L708.9 143.4 L710.3 143.4 L711.7 143.4 L713.1 143.5 L714.5 143.5 L715.9 143.5 L717.3 143.5 L718.7 143.5 L720.2 143.5 L721.6 143.4 L723 143.4 L724.4 143.3 L725.8 143.3 L727.3 143.2 L728.7 143.1 L730.1 143 L731.5 142.9 L732.9 142.8 L734.4 142.7 L735.8 142.6 L737.2 142.5 L738.7 142.3 L740.2 142.1 L741.7 141.7 L743.2 141.3 L744.7 140.9 L746.2 140.4 L747.7 139.9 L749.2 139.5 L750.7 139 L752.2 138.5 L753.6 138 L755 137.4 L756.5 136.8 L758 136.2 L759.4 135.7 L760.8 135.2 L762.3 134.8 L763.7 134.5 L765.1 134.2 L766.5 134 L767.8 133.7 L769.2 133.5 L770.6 133.4 L772 133.2 L773.5 133 L774.9 132.9 L776.4 132.7 L777.9 132.6 L779.3 132.5 L780.8 132.4 L782.2 132.3 L783.7 132.3 L787.5 139 L793.3 156.5 L798.5 172" fill="none" stroke="#f0027f" stroke-width="2.1" stroke-dasharray="2.1 2.4" stroke-linejoin="round"/>
<path d="M529.1 387 L530.4 384.3 L531.6 381.7 L532.9 379 L534.1 376.4 L535.4 373.8 L536.8 371 L538.2 368.2 L539.6 365.4 L541.1 362.6 L542.5 359.8 L543.9 357 L545.3 354.3 L546.6 351.5 L548 348.7 L549.3 345.9 L550.7 343.1 L553.6 337.1 L554.9 334.3 L556.3 331.5 L557.6 328.7 L559 325.9 L560.3 323.1 L561.6 320.4 L563 317.6 L564.3 314.8 L565.6 312 L567 309.3 L568.3 306.5 L569.6 303.8 L570.9 301 L572.3 298.3 L573.6 295.6 L574.9 292.9 L576.3 290.2 L577.6 287.5 L578.9 284.8 L580.2 282.2 L581.6 279.5 L582.9 276.9 L584.2 274.3 L585.6 271.7 L586.9 269.2 L588.3 266.6 L589.6 264.1 L592 259.6 L593.3 257.2 L594.7 254.8 L596 252.5 L597.3 250.1 L598.7 247.8 L600 245.5 L601.3 243.3 L602.6 241.2 L604 239 L605.3 236.9 L606.6 234.8 L607.9 232.7 L609.3 230.7 L610.6 228.7 L612 226.7 L613.3 224.8 L614.6 222.9 L615.9 221 L617.3 219.1 L618.6 217.3 L619.9 215.5 L621.2 213.7 L622.6 212 L623.9 210.2 L625.3 208.5 L626.6 206.8 L627.9 205.2 L629.2 203.5 L630.6 201.9 L631.9 200.3 L633.2 198.8 L634.5 197.2 L635.9 195.6 L637.2 194.1 L638.6 192.6 L639.9 191.1 L641.2 189.6 L642.6 188.1 L643.9 186.6 L645.3 185.2 L646.6 183.7 L647.9 182.3 L649.2 181 L650.6 179.6 L651.9 178.2 L653.2 176.8 L654.5 175.2 L655.9 173.6 L657.2 171.9 L658.6 170.2 L659.9 168.6 L661.2 167.1 L662.5 165.6 L663.9 164.1 L665.2 162.7 L666.5 161.3 L670 158 L671.5 156.4 L673 154.7 L674.5 152.9 L676 151.1 L677.5 149.4 L679 147.8 L680.3 146.5 L681.6 145.1 L682.9 143.7 L684.2 142.5 L685.5 141.6 L686.8 141 L688.2 140.6 L689.6 140.3 L691 140 L692.3 139.7 L693.7 139.6 L695.1 139.4 L696.5 139.4 L698 139.4 L699.5 139.4 L701 139.4 L702.5 139.4 L704 139.4 L705.5 139.4 L706.9 139.4 L708.4 139.4 L709.9 139.4 L711.4 139.4 L712.9 139.4 L714.4 139.4 L715.9 139.4 L717.3 139.4 L718.7 139.4 L720.2 139.4 L721.6 139.3 L723 139.3 L724.4 139.3 L725.8 139.2 L727.3 139.2 L728.7 139.1 L730.1 139.1 L731.5 139 L732.9 138.9 L734.4 138.9 L735.8 138.8 L737.2 138.7 L738.7 138.6 L740.2 138.5 L741.7 138.3 L743.2 138.1 L744.7 137.9 L746.2 137.7 L747.7 137.5 L749.2 137.2 L750.7 137 L752.2 136.7 L753.6 136.5 L755 136.1 L756.5 135.8 L758 135.4 L759.4 135 L760.8 134.6 L762.3 134.2 L763.7 133.7 L765.1 133.2 L766.5 132.6 L767.8 132 L769.2 131.4 L770.6 130.8 L772 130.3 L777.8 128.4 L779.1 128.4 L780.4 128.4 L781.7 128.4 L783 128.4 L784.3 128.4 L785.6 128.4 L789.5 135.2 L793.3 148.7 L798.5 168" fill="none" stroke="#fff" stroke-width="1.3" stroke-linejoin="round"/>
<path d="M529.1 387 L530.4 384.3 L531.6 381.7 L532.9 379 L534.1 376.4 L535.4 373.8 L536.8 371 L538.2 368.2 L539.6 365.4 L541.1 362.6 L542.5 359.8 L543.9 357 L545.3 354.3 L546.6 351.5 L548 348.7 L549.3 345.9 L550.7 343.1 L553.6 337.1 L554.9 334.3 L556.3 331.5 L557.6 328.7 L559 325.9 L560.3 323.1 L561.6 320.4 L563 317.6 L564.3 314.8 L565.6 312 L567 309.3 L568.3 306.5 L569.6 303.8 L570.9 301 L572.3 298.3 L573.6 295.6 L574.9 292.9 L576.3 290.2 L577.6 287.5 L578.9 284.8 L580.2 282.2 L581.6 279.5 L582.9 276.9 L584.2 274.3 L585.6 271.7 L586.9 269.2 L588.3 266.6 L589.6 264.1 L592 259.6 L593.3 257.2 L594.7 254.8 L596 252.5 L597.3 250.1 L598.7 247.8 L600 245.5 L601.3 243.3 L602.6 241.2 L604 239 L605.3 236.9 L606.6 234.8 L607.9 232.7 L609.3 230.7 L610.6 228.7 L612 226.7 L613.3 224.8 L614.6 222.9 L615.9 221 L617.3 219.1 L618.6 217.3 L619.9 215.5 L621.2 213.7 L622.6 212 L623.9 210.2 L625.3 208.5 L626.6 206.8 L627.9 205.2 L629.2 203.5 L630.6 201.9 L631.9 200.3 L633.2 198.8 L634.5 197.2 L635.9 195.6 L637.2 194.1 L638.6 192.6 L639.9 191.1 L641.2 189.6 L642.6 188.1 L643.9 186.6 L645.3 185.2 L646.6 183.7 L647.9 182.3 L649.2 181 L650.6 179.6 L651.9 178.2 L653.2 176.8 L654.5 175.2 L655.9 173.6 L657.2 171.9 L658.6 170.2 L659.9 168.6 L661.2 167.1 L662.5 165.6 L663.9 164.1 L665.2 162.7 L666.5 161.3 L670 158 L671.5 156.4 L673 154.7 L674.5 152.9 L676 151.1 L677.5 149.4 L679 147.8 L680.3 146.5 L681.6 145.1 L682.9 143.7 L684.2 142.5 L685.5 141.6 L686.8 141 L688.2 140.6 L689.6 140.3 L691 140 L692.3 139.7 L693.7 139.6 L695.1 139.4 L696.5 139.4 L698 139.4 L699.5 139.4 L701 139.4 L702.5 139.4 L704 139.4 L705.5 139.4 L706.9 139.4 L708.4 139.4 L709.9 139.4 L711.4 139.4 L712.9 139.4 L714.4 139.4 L715.9 139.4 L717.3 139.4 L718.7 139.4 L720.2 139.4 L721.6 139.3 L723 139.3 L724.4 139.3 L725.8 139.2 L727.3 139.2 L728.7 139.1 L730.1 139.1 L731.5 139 L732.9 138.9 L734.4 138.9 L735.8 138.8 L737.2 138.7 L738.7 138.6 L740.2 138.5 L741.7 138.3 L743.2 138.1 L744.7 137.9 L746.2 137.7 L747.7 137.5 L749.2 137.2 L750.7 137 L752.2 136.7 L753.6 136.5 L755 136.1 L756.5 135.8 L758 135.4 L759.4 135 L760.8 134.6 L762.3 134.2 L763.7 133.7 L765.1 133.2 L766.5 132.6 L767.8 132 L769.2 131.4 L770.6 130.8 L772 130.3 L777.8 128.4 L779.1 128.4 L780.4 128.4 L781.7 128.4 L783 128.4 L784.3 128.4 L785.6 128.4 L789.5 135.2 L793.3 148.7 L798.5 168" fill="none" stroke="#1f3fff" stroke-width="2.1" stroke-dasharray="2.1 2.4" stroke-linejoin="round"/>
</g>
<rect x="465" y="34" width="334" height="354" fill="none" stroke="#000" stroke-width="2"/>
</g>
<g id="panel-c">
<clipPath id="clip-c"><rect x="115" y="404" width="334" height="354"/></clipPath>
<g clip-path="url(#clip-c)">
<path d="M115 758 L115 716 L116.7 713.9 L118.3 711.9 L120 709.8 L121.6 707.8 L123.3 705.8 L125 703.8 L126.7 701.7 L128.3 699.7 L130 697.8 L131.7 695.9 L133.3 694.1 L134.9 692.3 L136.6 690.6 L138.3 688.9 L139.9 687.3 L141.6 685.7 L143.3 684.2 L145 682.8 L146.7 681.5 L148.3 680.2 L150 679 L151.7 677.8 L153.3 676.7 L154.9 675.6 L156.6 674.5 L158.3 673.4 L159.9 672.2 L161.6 671.1 L163.3 670 L165 668.9 L166.6 667.9 L168.2 666.9 L169.9 665.8 L171.6 664.7 L173.2 663.5 L174.9 662.3 L176.6 661 L178.2 659.7 L179.9 658.4 L181.5 657 L183.2 655.5 L184.9 653.8 L186.6 652 L188.2 650 L189.9 648 L191.6 645.9 L193.3 643.6 L194.9 641.2 L196.6 638.9 L198.3 636.7 L200 634.6 L201.8 632.6 L203.5 630.6 L205.3 628.7 L207.1 626.9 L208.8 625.3 L210.6 623.9 L212.6 622.5 L214.6 621.1 L216.6 620 L218.6 619.3 L220.6 618.8 L222.6 618.3 L224.6 618 L226.6 617.9 L228.2 618.1 L229.9 618.8 L231.5 619.7 L233.2 620.6 L234.9 621.9 L236.6 623.5 L238.2 625.2 L239.9 626.6 L245.2 629.2 L250.6 621.2 L255.9 609.3 L257.4 606.4 L258.9 603.7 L260.5 601.2 L262 598.6 L266 591.9 L270 587.9 L274 585.9 L278 585.2 L283.3 586.6 L288.6 589.9 L293.9 593.2 L299.3 595.6 L304.6 597.9 L309.9 601.9 L315.2 606.5 L317.6 609.7 L319.2 610.1 L320.9 610.3 L322.5 610.5 L324.2 610.7 L325.8 611 L327.4 611.5 L328.9 612.3 L330.4 613.4 L332 614.8 L336.5 626 L340 642.6 L341.6 657 L341.6 758" fill="#f0027f" stroke="#000" stroke-width="1.6" stroke-linejoin="miter" stroke-miterlimit="3"/>
<path d="M346.4 758 L346.4 659 L350.9 626.3 L355.4 608 L360.5 597.6 L362.5 598.6 L364.4 601 L366.4 603.8 L368.3 606.2 L370.3 607.2 L372 606.9 L373.8 606 L375.5 604.9 L377.3 603.7 L379 602.7 L384.5 600 L386.3 598.7 L388.1 597.1 L389.9 595.4 L391.7 593.9 L393.5 593 L399 591.8 L403.5 592 L408.6 587.6 L413 563.6 L418 574.5 L422.6 580.3 L427 560.4 L431.7 600.8 L435.3 620.8 L440.7 642.6 L442.4 648.1 L444 653.3 L445.7 658.1 L447.3 662.4 L449 666.2 L449 758" fill="#1f3fff" stroke="#000" stroke-width="1.6" stroke-linejoin="miter" stroke-miterlimit="3"/>
<path d="M115 710.6 L116 709.5 L117.5 707.7 L118.9 705.7 L120.4 703.6 L121.8 701.6 L123.3 699.6 L124.8 697.7 L126.3 695.9 L127.7 694 L129.2 692.2 L130.7 690.4 L132.2 688.6 L133.6 686.9 L135.1 685.2 L136.6 683.5 L138.1 681.8 L139.6 680.1 L141.1 678.5 L142.6 676.9 L144 675.3 L145.5 673.7 L147 672.2 L148.5 670.6 L150 669.1 L151.4 667.6 L152.9 666.2 L154.3 664.7 L155.7 663.3 L157.1 661.9 L158.6 660.5 L160 659.1 L161.5 657.7 L163 656.3 L164.4 654.9 L165.9 653.4 L167.4 652 L168.9 650.6 L170.3 649.2 L171.8 647.8 L173.3 646.4 L174.8 645 L176.3 643.6 L177.7 642.2 L179.2 640.8 L180.7 639.4 L182.2 638 L183.6 636.6 L185.1 635.2 L186.6 633.8 L188.1 632.3 L189.6 630.9 L191.1 629.4 L192.6 627.9 L194 626.4 L195.5 624.9 L197 623.4 L198.5 621.9 L200 620.4 L201.5 618.8 L203 617.2 L204.4 615.6 L205.9 614 L207.4 612.4 L208.9 610.8 L210.3 609.1 L211.8 607.4 L213.3 605.7 L214.8 604 L216.3 602.2 L217.7 600.4 L219.2 598.6 L220.7 596.7 L222.2 594.9 L223.6 593 L225.1 591 L226.6 589.1 L232 581.6 L238 572.7 L239.3 570.6 L240.7 568.4 L242 566.2 L243.3 563.9 L244.7 561.6 L246 559.3 L247.3 556.9 L248.7 554.4 L250 551.9 L251.3 549.4 L252.7 547 L254 544.7 L255.3 542.6 L256.7 540.6 L258 538.6 L259.3 536.8 L260.7 535 L262 533.5 L263.3 532 L264.7 530.6 L266 529.3 L267.3 528.1 L268.7 527 L270 526 L271.3 525.1 L272.6 524.3 L273.9 523.5 L275.3 522.8 L276.6 522.2 L277.9 521.7 L279.2 521.2 L280.6 520.8 L281.9 520.4 L283.2 520 L284.6 519.8 L285.9 519.6 L287.2 519.5 L288.6 519.4 L289.9 519.4 L291.2 519.3 L292.6 519.2 L293.9 519.2 L295.3 519.2 L296.6 519.1 L297.9 519.2 L299.2 519.2 L300.6 519.3 L301.9 519.3 L303.2 519.4 L304.6 519.5 L305.9 519.5 L307.2 519.5 L308.5 519.5 L309.9 519.5 L311.2 519.4 L312.5 519.3 L313.9 519.2 L315.2 519.1 L316.6 519 L317.9 518.9 L319.2 518.7 L320.5 518.3 L321.9 518 L323.2 517.5 L324.5 517 L325.9 516.6 L327.2 516.1 L328.5 515.7 L329.9 515.3 L331.2 514.9 L332.6 514.6 L333.9 514.2 L335.3 513.8 L336.7 513.5 L338 513.1 L339.4 512.7 L340.7 512.3 L342 511.8 L343.4 511.4 L344.7 510.9 L346 510.6 L347.3 510.4 L348.6 510.3 L349.8 510.2 L351.1 510.1 L352.3 510 L353.6 510 L354.9 510.1 L356.2 510.4 L357.6 510.8 L358.9 511.3 L360.2 511.6 L361.5 511.7 L362.9 511.7 L364.4 511.6 L365.8 511.6 L367.2 511.5 L368.6 511.4 L370.1 511.2 L371.5 511.1 L372.9 511 L374.3 511 L375.8 510.9 L377.2 510.9 L378.5 511 L379.8 511.1 L381.1 511.3 L382.4 511.6 L383.7 511.9 L385 512.2 L386.4 512.5 L387.8 512.9 L389.1 513.4 L390.5 513.9 L391.9 514.4 L393.2 514.9 L394.6 515.5 L396 516 L397.4 516.7 L398.9 517.5 L400.3 518.2 L401.8 518.8 L403.2 519 L408.7 514.9 L412.6 507.8 L418 505 L422 505.4 L425.2 518.8 L430 547 L434.7 573.9 L437 582.7 L441.7 600 L443 604.3 L444.2 608.4 L445.5 612.4 L446.7 616.3 L448 620" fill="none" stroke="#f0027f" stroke-width="1.35" stroke-linejoin="round"/>
<path d="M121.3 757 L122.8 753.7 L124.2 750.4 L125.7 747.2 L127.1 744 L128.6 740.9 L130 737.9 L131.3 735.1 L132.6 732.5 L134 729.9 L135.3 727.3 L136.6 724.7 L137.9 722.3 L139.2 719.9 L140.4 717.6 L141.7 715.3 L143 713 L144.4 710.6 L145.8 708.2 L147.2 705.8 L148.6 703.5 L150 701.2 L151.4 699 L152.8 696.8 L154.2 694.7 L155.6 692.6 L157 690.5 L158.4 688.5 L163.3 681.6 L164.6 679.8 L166 678.1 L167.3 676.3 L168.7 674.6 L170 673 L171.3 671.3 L172.6 669.7 L174 668.2 L175.3 666.6 L176.6 665.1 L178 663.5 L179.5 661.9 L180.9 660.3 L182.3 658.7 L183.7 657.1 L185.2 655.5 L186.6 654 L188.1 652.3 L189.6 650.7 L191.1 649.1 L192.6 647.4 L194 645.8 L195.5 644.2 L197 642.5 L198.5 640.8 L200 639.1 L201.5 637.3 L203 635.6 L204.4 633.8 L205.9 632 L207.4 630.1 L208.9 628.3 L210.3 626.4 L211.8 624.4 L213.3 622.5 L214.6 620.6 L215.9 618.8 L217.3 616.8 L218.6 614.9 L219.9 612.9 L221.2 610.8 L222.6 608.6 L223.9 606.4 L225.3 604.1 L226.6 601.8 L230 595.7 L231.3 593.2 L232.7 590.7 L234 588.1 L235.3 585.5 L236.7 582.9 L238 580.3 L239.3 577.7 L240.7 575.1 L242 572.4 L243.3 569.8 L244.7 567.2 L246 564.6 L247.3 562.1 L248.7 559.5 L250 557 L251.3 554.6 L252.7 552.2 L254 549.9 L255.3 547.7 L256.7 545.5 L258 543.3 L259.3 541.3 L260.7 539.3 L262 537.5 L263.3 535.9 L264.7 534.2 L266 532.6 L267.3 531.2 L268.7 529.9 L270 528.9 L271.3 527.9 L272.6 527.1 L273.9 526.3 L275.3 525.6 L276.6 525.1 L277.9 524.7 L279.2 524.4 L280.6 524.1 L281.9 523.9 L283.2 523.7 L284.6 523.5 L285.9 523.5 L287.2 523.4 L288.6 523.4 L289.9 523.4 L291.2 523.3 L292.6 523.3 L293.9 523.3 L295.3 523.3 L296.6 523.2 L297.9 523.2 L299.2 523 L300.6 522.8 L301.9 522.6 L303.2 522.3 L304.6 522 L305.9 521.7 L307.2 521.4 L308.5 521.1 L309.9 520.8 L311.2 520.4 L312.5 520 L313.9 519.6 L315.2 519.2 L316.6 518.8 L317.9 518.4 L319.2 518.1 L320.5 517.8 L321.9 517.5 L323.2 517.2 L324.5 516.9 L325.9 516.6 L327.2 516.3 L328.5 516 L329.9 515.6 L331.2 515.3 L332.6 514.9 L333.9 514.4 L335.3 514 L336.7 513.6 L338 513.2 L339.4 512.7 L340.7 512.2 L342 511.7 L343.4 511.1 L344.7 510.6 L346 510.1 L347.3 509.8 L348.6 509.6 L349.8 509.4 L351.1 509.2 L352.3 509 L353.6 509 L354.9 509.1 L356.2 509.4 L357.6 509.8 L358.9 510.2 L360.2 510.5 L361.5 510.6 L362.9 510.6 L364.4 510.5 L365.8 510.4 L367.2 510.2 L368.6 510 L370.1 509.9 L371.5 509.7 L372.9 509.5 L374.3 509.4 L375.8 509.3 L377.2 509.3 L378.5 509.3 L379.8 509.4 L381.1 509.5 L382.4 509.7 L383.7 509.8 L385 510 L386.4 510.2 L387.8 510.5 L389.1 510.9 L390.5 511.4 L391.9 511.8 L393.2 512.3 L394.6 512.8 L396 513.3 L397.4 513.9 L398.9 514.6 L400.3 515.3 L401.8 515.8 L403.2 516 L408.7 511.7 L412.6 503 L418 502 L422.9 503 L426 517.2 L430.7 544 L435.4 570.7 L439 582.7 L443.3 600 L448 614.5" fill="none" stroke="#1f3fff" stroke-width="1.6" stroke-linejoin="round"/>
<path d="M128.6 757 L129.9 754.6 L131.3 752.3 L132.6 750 L133.9 747.7 L135.3 745.5 L136.6 743.3 L138.1 740.8 L139.6 738.4 L141.1 736 L142.6 733.6 L144 731.2 L145.5 728.9 L147 726.6 L148.5 724.4 L150 722.2 L151.5 720.1 L153 718 L154.4 715.9 L155.9 713.9 L157.4 711.9 L158.9 710 L160.3 708 L161.8 706.1 L163.3 704.3 L164.8 702.4 L166.3 700.6 L167.7 698.8 L169.2 697 L170.7 695.3 L172.2 693.6 L173.6 691.9 L175.1 690.2 L176.6 688.6 L178.1 686.9 L179.6 685.3 L181 683.7 L182.5 682.1 L184 680.6 L185.5 679 L186.9 677.5 L188.4 675.9 L189.9 674.4 L194.6 669.7 L195.9 668.3 L197.3 667 L198.6 665.7 L199.9 664.4 L201.3 663.1 L202.6 661.8 L204 660.5 L205.3 659.1 L206.6 657.8 L208 656.6 L209.3 655.3 L210.6 654 L211.9 652.7 L213.2 651.4 L214.6 650.1 L215.9 648.8 L217.2 647.5 L218.6 646.1 L219.9 644.8 L221.2 643.5 L222.6 642.1 L223.9 640.8 L225.3 639.4 L226.6 638 L227.9 636.7 L229.2 635.3 L230.6 633.9 L231.9 632.5 L233.2 631.1 L234.5 629.7 L235.9 628.2 L237.2 626.8 L238.5 625.3 L239.9 623.8 L241.2 622.3 L242.6 620.8 L243.9 619.2 L245.2 617.6 L246.6 616 L247.9 614.4 L249.3 612.7 L250.6 611 L254 606.4 L255.3 604.5 L256.7 602.5 L258 600.4 L259.3 598.2 L260.7 596 L262 593.6 L263.3 591.2 L264.7 588.6 L266 585.9 L267.3 583.1 L268.7 580.3 L270 577.6 L271.3 574.8 L272.6 571.9 L273.9 569.1 L275.3 566.2 L276.6 563.4 L277.9 560.6 L279.2 557.9 L280.6 555.2 L281.9 552.6 L283.2 550 L284.6 547.5 L285.9 545.3 L287.2 543.1 L288.6 541.1 L289.9 539.1 L291.2 537.3 L292.6 535.5 L293.9 534 L295.2 532.5 L296.6 531.1 L297.9 529.8 L299.2 528.6 L300.6 527.5 L301.9 526.5 L303.2 525.6 L304.6 524.8 L305.9 524 L307.2 523.3 L308.6 522.7 L309.9 522.2 L311.2 521.8 L312.6 521.4 L313.9 521.1 L315.2 520.7 L316.6 520.5 L317.9 520.2 L319.3 520 L320.6 519.9 L321.9 519.8 L323.2 519.7 L324.6 519.6 L325.9 519.6 L327.2 519.5 L328.6 519.5 L329.9 519.4 L331.2 519.3 L332.7 519.2 L334.1 519 L335.6 518.8 L337.1 518.6 L338.5 518.3 L340 518 L341.3 517.7 L342.6 517.3 L343.8 516.8 L345.1 516.4 L346.4 516 L347.8 515.6 L349.1 515.3 L350.5 515 L351.9 514.7 L353.3 514.3 L354.6 514 L356 513.8 L357.4 513.5 L358.8 513.2 L360.1 513 L361.5 512.8 L362.9 512.6 L364.4 512.4 L365.8 512.1 L367.2 511.9 L368.6 511.7 L370.1 511.5 L371.5 511.3 L372.9 511.2 L374.3 511.1 L375.8 511 L377.2 511 L378.5 511.1 L379.8 511.3 L381.1 511.6 L382.4 511.9 L383.7 512.1 L385 512.2 L386.4 512.2 L387.8 512.1 L389.1 512 L390.5 511.9 L391.9 511.9 L393.2 511.8 L394.6 511.7 L396 511.7 L397.4 511.7 L398.9 511.8 L400.3 512 L401.8 512.1 L403.2 512.2 L408.7 512.5 L410 512.8 L411.2 513.2 L412.5 513.8 L413.7 514.4 L415 514.9 L416.3 515.4 L417.5 515.8 L418.8 516.3 L420 516.7 L421.3 517.2 L422.6 517.7 L423.8 518.4 L425.1 519 L426.3 519.5 L427.6 520 L428.9 520.4 L430.2 520.8 L431.5 521.2 L432.8 521.5 L434.1 521.8 L435.4 522 L441 522.7 L444 517.2 L446.5 507.8 L448.8 494" fill="none" stroke="#fff" stroke-width="1.3" stroke-linejoin="round"/>
<path d="M128.6 757 L129.9 754.6 L131.3 752.3 L132.6 750 L133.9 747.7 L135.3 745.5 L136.6 743.3 L138.1 740.8 L139.6 738.4 L141.1 736 L142.6 733.6 L144 731.2 L145.5 728.9 L147 726.6 L148.5 724.4 L150 722.2 L151.5 720.1 L153 718 L154.4 715.9 L155.9 713.9 L157.4 711.9 L158.9 710 L160.3 708 L161.8 706.1 L163.3 704.3 L164.8 702.4 L166.3 700.6 L167.7 698.8 L169.2 697 L170.7 695.3 L172.2 693.6 L173.6 691.9 L175.1 690.2 L176.6 688.6 L178.1 686.9 L179.6 685.3 L181 683.7 L182.5 682.1 L184 680.6 L185.5 679 L186.9 677.5 L188.4 675.9 L189.9 674.4 L194.6 669.7 L195.9 668.3 L197.3 667 L198.6 665.7 L199.9 664.4 L201.3 663.1 L202.6 661.8 L204 660.5 L205.3 659.1 L206.6 657.8 L208 656.6 L209.3 655.3 L210.6 654 L211.9 652.7 L213.2 651.4 L214.6 650.1 L215.9 648.8 L217.2 647.5 L218.6 646.1 L219.9 644.8 L221.2 643.5 L222.6 642.1 L223.9 640.8 L225.3 639.4 L226.6 638 L227.9 636.7 L229.2 635.3 L230.6 633.9 L231.9 632.5 L233.2 631.1 L234.5 629.7 L235.9 628.2 L237.2 626.8 L238.5 625.3 L239.9 623.8 L241.2 622.3 L242.6 620.8 L243.9 619.2 L245.2 617.6 L246.6 616 L247.9 614.4 L249.3 612.7 L250.6 611 L254 606.4 L255.3 604.5 L256.7 602.5 L258 600.4 L259.3 598.2 L260.7 596 L262 593.6 L263.3 591.2 L264.7 588.6 L266 585.9 L267.3 583.1 L268.7 580.3 L270 577.6 L271.3 574.8 L272.6 571.9 L273.9 569.1 L275.3 566.2 L276.6 563.4 L277.9 560.6 L279.2 557.9 L280.6 555.2 L281.9 552.6 L283.2 550 L284.6 547.5 L285.9 545.3 L287.2 543.1 L288.6 541.1 L289.9 539.1 L291.2 537.3 L292.6 535.5 L293.9 534 L295.2 532.5 L296.6 531.1 L297.9 529.8 L299.2 528.6 L300.6 527.5 L301.9 526.5 L303.2 525.6 L304.6 524.8 L305.9 524 L307.2 523.3 L308.6 522.7 L309.9 522.2 L311.2 521.8 L312.6 521.4 L313.9 521.1 L315.2 520.7 L316.6 520.5 L317.9 520.2 L319.3 520 L320.6 519.9 L321.9 519.8 L323.2 519.7 L324.6 519.6 L325.9 519.6 L327.2 519.5 L328.6 519.5 L329.9 519.4 L331.2 519.3 L332.7 519.2 L334.1 519 L335.6 518.8 L337.1 518.6 L338.5 518.3 L340 518 L341.3 517.7 L342.6 517.3 L343.8 516.8 L345.1 516.4 L346.4 516 L347.8 515.6 L349.1 515.3 L350.5 515 L351.9 514.7 L353.3 514.3 L354.6 514 L356 513.8 L357.4 513.5 L358.8 513.2 L360.1 513 L361.5 512.8 L362.9 512.6 L364.4 512.4 L365.8 512.1 L367.2 511.9 L368.6 511.7 L370.1 511.5 L371.5 511.3 L372.9 511.2 L374.3 511.1 L375.8 511 L377.2 511 L378.5 511.1 L379.8 511.3 L381.1 511.6 L382.4 511.9 L383.7 512.1 L385 512.2 L386.4 512.2 L387.8 512.1 L389.1 512 L390.5 511.9 L391.9 511.9 L393.2 511.8 L394.6 511.7 L396 511.7 L397.4 511.7 L398.9 511.8 L400.3 512 L401.8 512.1 L403.2 512.2 L408.7 512.5 L410 512.8 L411.2 513.2 L412.5 513.8 L413.7 514.4 L415 514.9 L416.3 515.4 L417.5 515.8 L418.8 516.3 L420 516.7 L421.3 517.2 L422.6 517.7 L423.8 518.4 L425.1 519 L426.3 519.5 L427.6 520 L428.9 520.4 L430.2 520.8 L431.5 521.2 L432.8 521.5 L434.1 521.8 L435.4 522 L441 522.7 L444 517.2 L446.5 507.8 L448.8 494" fill="none" stroke="#f0027f" stroke-width="2.1" stroke-dasharray="2.1 2.4" stroke-linejoin="round"/>
<path d="M159.3 757 L160.6 754.4 L161.9 751.8 L163.3 749.2 L164.6 746.6 L165.9 744.1 L167.2 741.7 L168.6 739.2 L169.9 736.8 L171.2 734.4 L172.6 732 L173.9 729.6 L175.2 727.3 L176.6 725 L177.9 722.7 L179.2 720.4 L180.6 718.1 L181.9 715.9 L183.2 713.7 L184.6 711.5 L185.9 709.4 L187.2 707.2 L188.6 705.1 L189.9 703 L191.2 701 L192.6 699 L193.9 697 L195.2 695 L196.6 693 L197.9 691.1 L199.2 689.2 L200.6 687.4 L201.9 685.5 L203.2 683.7 L204.6 682 L205.9 680.2 L207.3 678.4 L208.8 676.5 L210.2 674.7 L211.7 673 L213.2 671.2 L214.6 669.5 L215.9 667.9 L217.3 666.3 L218.6 664.8 L219.9 663.2 L221.2 661.7 L222.6 660.1 L223.9 658.5 L225.2 656.9 L226.6 655.3 L227.9 653.7 L229.2 652 L230.6 650.4 L231.9 648.7 L233.3 647 L234.6 645.3 L235.9 643.5 L237.2 641.7 L238.6 639.8 L239.9 638 L241.2 636.1 L242.5 634.1 L243.9 632.1 L245.2 630.1 L246.5 627.9 L247.9 625.7 L249.2 623.4 L250.5 621.1 L251.9 618.7 L253.2 616.3 L257.3 608.3 L258.8 605.3 L260.2 602.3 L261.7 599.2 L263.1 596.1 L264.6 593 L265.9 590.1 L267.3 587.2 L268.6 584.3 L269.9 581.4 L271.3 578.5 L272.6 575.7 L273.9 572.9 L275.3 570.1 L276.6 567.3 L277.9 564.6 L279.3 561.9 L280.6 559.4 L281.9 556.9 L283.3 554.5 L284.6 552.1 L285.9 549.8 L287.3 547.6 L288.6 545.6 L289.9 543.7 L291.3 541.9 L292.6 540.1 L293.9 538.5 L295.3 536.9 L296.6 535.5 L297.9 534.2 L299.3 532.9 L300.6 531.7 L301.9 530.7 L303.3 529.7 L304.6 528.8 L305.9 527.9 L307.3 527.2 L308.6 526.4 L309.9 525.8 L311.3 525.2 L312.6 524.8 L313.9 524.4 L315.2 524.1 L316.6 523.8 L317.9 523.5 L319.2 523.3 L320.6 523.1 L321.9 522.9 L323.2 522.7 L324.5 522.6 L325.9 522.5 L327.2 522.4 L328.5 522.3 L329.9 522.1 L331.2 522 L332.7 521.8 L334.1 521.5 L335.6 521.2 L337.1 520.8 L338.5 520.4 L340 520 L341.5 519.5 L342.9 518.9 L344.4 518.3 L345.8 517.7 L347.3 517.2 L348.6 516.9 L349.8 516.5 L351.1 516.3 L352.3 516 L353.6 515.6 L354.9 515.2 L356.2 514.7 L357.6 514.1 L358.9 513.6 L360.2 513 L361.5 512.5 L362.8 511.9 L364.1 511.3 L365.4 510.7 L366.7 510.1 L368 509.6 L369.3 509.3 L370.6 509.1 L371.9 508.9 L373.2 508.8 L374.6 508.7 L375.9 508.6 L377.2 508.6 L378.5 508.7 L379.8 508.9 L381.1 509.2 L382.4 509.5 L383.7 509.8 L385 510 L386.4 510.2 L387.8 510.4 L389.1 510.5 L390.5 510.7 L391.9 510.8 L393.2 511 L394.6 511.1 L396 511.2 L397.4 511.3 L398.9 511.5 L400.3 511.6 L401.8 511.7 L403.2 511.7 L408.7 511.2 L410 511.3 L411.2 511.7 L412.5 512.2 L413.7 512.8 L415 513.3 L416.3 513.8 L417.5 514.4 L418.8 515.1 L420 515.8 L421.3 516.4 L422.6 517.1 L423.8 517.7 L425.1 518.4 L426.3 519.1 L427.6 519.6 L428.9 520.1 L430.2 520.6 L431.5 521 L432.8 521.4 L434.1 521.7 L435.4 522 L441 522.7 L444 517.2 L447.2 504.6 L448.8 493.6" fill="none" stroke="#fff" stroke-width="1.3" stroke-linejoin="round"/>
<path d="M159.3 757 L160.6 754.4 L161.9 751.8 L163.3 749.2 L164.6 746.6 L165.9 744.1 L167.2 741.7 L168.6 739.2 L169.9 736.8 L171.2 734.4 L172.6 732 L173.9 729.6 L175.2 727.3 L176.6 725 L177.9 722.7 L179.2 720.4 L180.6 718.1 L181.9 715.9 L183.2 713.7 L184.6 711.5 L185.9 709.4 L187.2 707.2 L188.6 705.1 L189.9 703 L191.2 701 L192.6 699 L193.9 697 L195.2 695 L196.6 693 L197.9 691.1 L199.2 689.2 L200.6 687.4 L201.9 685.5 L203.2 683.7 L204.6 682 L205.9 680.2 L207.3 678.4 L208.8 676.5 L210.2 674.7 L211.7 673 L213.2 671.2 L214.6 669.5 L215.9 667.9 L217.3 666.3 L218.6 664.8 L219.9 663.2 L221.2 661.7 L222.6 660.1 L223.9 658.5 L225.2 656.9 L226.6 655.3 L227.9 653.7 L229.2 652 L230.6 650.4 L231.9 648.7 L233.3 647 L234.6 645.3 L235.9 643.5 L237.2 641.7 L238.6 639.8 L239.9 638 L241.2 636.1 L242.5 634.1 L243.9 632.1 L245.2 630.1 L246.5 627.9 L247.9 625.7 L249.2 623.4 L250.5 621.1 L251.9 618.7 L253.2 616.3 L257.3 608.3 L258.8 605.3 L260.2 602.3 L261.7 599.2 L263.1 596.1 L264.6 593 L265.9 590.1 L267.3 587.2 L268.6 584.3 L269.9 581.4 L271.3 578.5 L272.6 575.7 L273.9 572.9 L275.3 570.1 L276.6 567.3 L277.9 564.6 L279.3 561.9 L280.6 559.4 L281.9 556.9 L283.3 554.5 L284.6 552.1 L285.9 549.8 L287.3 547.6 L288.6 545.6 L289.9 543.7 L291.3 541.9 L292.6 540.1 L293.9 538.5 L295.3 536.9 L296.6 535.5 L297.9 534.2 L299.3 532.9 L300.6 531.7 L301.9 530.7 L303.3 529.7 L304.6 528.8 L305.9 527.9 L307.3 527.2 L308.6 526.4 L309.9 525.8 L311.3 525.2 L312.6 524.8 L313.9 524.4 L315.2 524.1 L316.6 523.8 L317.9 523.5 L319.2 523.3 L320.6 523.1 L321.9 522.9 L323.2 522.7 L324.5 522.6 L325.9 522.5 L327.2 522.4 L328.5 522.3 L329.9 522.1 L331.2 522 L332.7 521.8 L334.1 521.5 L335.6 521.2 L337.1 520.8 L338.5 520.4 L340 520 L341.5 519.5 L342.9 518.9 L344.4 518.3 L345.8 517.7 L347.3 517.2 L348.6 516.9 L349.8 516.5 L351.1 516.3 L352.3 516 L353.6 515.6 L354.9 515.2 L356.2 514.7 L357.6 514.1 L358.9 513.6 L360.2 513 L361.5 512.5 L362.8 511.9 L364.1 511.3 L365.4 510.7 L366.7 510.1 L368 509.6 L369.3 509.3 L370.6 509.1 L371.9 508.9 L373.2 508.8 L374.6 508.7 L375.9 508.6 L377.2 508.6 L378.5 508.7 L379.8 508.9 L381.1 509.2 L382.4 509.5 L383.7 509.8 L385 510 L386.4 510.2 L387.8 510.4 L389.1 510.5 L390.5 510.7 L391.9 510.8 L393.2 511 L394.6 511.1 L396 511.2 L397.4 511.3 L398.9 511.5 L400.3 511.6 L401.8 511.7 L403.2 511.7 L408.7 511.2 L410 511.3 L411.2 511.7 L412.5 512.2 L413.7 512.8 L415 513.3 L416.3 513.8 L417.5 514.4 L418.8 515.1 L420 515.8 L421.3 516.4 L422.6 517.1 L423.8 517.7 L425.1 518.4 L426.3 519.1 L427.6 519.6 L428.9 520.1 L430.2 520.6 L431.5 521 L432.8 521.4 L434.1 521.7 L435.4 522 L441 522.7 L444 517.2 L447.2 504.6 L448.8 493.6" fill="none" stroke="#1f3fff" stroke-width="2.1" stroke-dasharray="2.1 2.4" stroke-linejoin="round"/>
</g>
<rect x="115" y="404" width="334" height="354" fill="none" stroke="#000" stroke-width="2"/>
</g>
<g id="panel-d">
<clipPath id="clip-d"><rect x="465" y="404" width="334" height="354"/></clipPath>
<g clip-path="url(#clip-d)">
<path d="M558.5 758 L558.5 739.2 L563.2 733.9 L565.4 717 L567.9 697.9 L572.6 680 L577.4 658.3 L582.2 650.4 L586.9 637.5 L591.7 625.5 L596.5 616.8 L601.3 610.5 L606 605.2 L610.8 602.4 L615.6 598.4 L620.4 595.8 L625.1 594.8 L629.9 594 L634.7 594.8 L639.4 593.6 L644.2 598.2 L649 595.3 L653.8 595.7 L658.7 595.5 L663.2 594.5 L667.4 595.9 L672.3 600 L677 599.8 L682 611 L686.8 622.6 L689.7 636.2 L691.6 646.8 L691.6 758" fill="#f0027f" stroke="#000" stroke-width="1.6" stroke-linejoin="miter" stroke-miterlimit="3"/>
<path d="M696.3 758 L696.3 657.5 L698 640 L700.7 625.5 L705.2 614.9 L710.4 609.6 L715.9 610.6 L720 609 L724.6 603.6 L729.4 599.8 L734.3 597.8 L739 594.5 L743.9 591.6 L748.8 590.7 L753.6 587.2 L758.5 588.7 L763.3 590.7 L768.2 597.4 L772.4 612.3 L777.3 608 L782 591.6 L787 584.8 L791.8 606 L794.3 638 L796.2 667 L798.2 653.6 L799 650 L799 758" fill="#1f3fff" stroke="#000" stroke-width="1.6" stroke-linejoin="miter" stroke-miterlimit="3"/>
<path d="M551.2 758 L553.1 747.9 L553.9 758Z" fill="#000" stroke="#000" stroke-width="0.8" stroke-linejoin="miter"/>
<path d="M488.6 757 L490.8 746 L495.2 740.7 L500 733.9 L501.3 732.1 L502.6 730.3 L503.9 728.5 L505.2 726.6 L506.5 724.5 L507.8 722.3 L509.2 719.3 L510.5 715.8 L511.9 712.1 L513.2 708.9 L514.6 706.8 L520.4 702.7 L521.7 701.1 L522.9 699 L524.2 696.5 L525.5 693.8 L526.7 691.3 L528 689 L529.4 686.7 L530.8 684.4 L532.3 682.1 L533.7 679.8 L535.1 677.6 L536.5 675.5 L537.9 673.4 L539.3 671.4 L540.8 669.5 L542.2 667.6 L543.6 665.9 L548.5 660.8 L550 658.7 L551.5 656.6 L553 654.6 L554.4 652.6 L555.9 650.6 L557.4 648.5 L558.9 646.4 L560.3 644.3 L561.8 642.1 L563.3 639.7 L564.6 637.5 L566 635.1 L567.3 632.7 L568.6 630.1 L570 627.5 L571.3 624.8 L572.7 622.1 L574 619.3 L575.3 616.5 L576.7 613.5 L578 610.4 L579.3 607.3 L580.7 604.2 L582 601.1 L583.3 598 L584.7 594.9 L586 591.8 L587.3 588.7 L588.7 585.7 L590 582.7 L594 574.2 L598 566.4 L599.3 564 L600.7 561.6 L602 559.3 L603.3 557 L604.7 554.9 L606 552.8 L607.3 550.8 L608.7 548.9 L610 547 L611.3 545.2 L612.7 543.5 L614 541.9 L615.3 540.4 L616.7 538.9 L618 537.5 L619.3 536.2 L620.7 534.9 L622 533.7 L623.3 532.6 L624.7 531.5 L626 530.5 L627.3 529.5 L628.7 528.6 L630 527.7 L631.3 526.9 L632.6 526.2 L634 525.4 L635.3 524.7 L636.6 524.1 L637.9 523.4 L639.2 522.8 L640.6 522.2 L641.9 521.7 L643.2 521.1 L644.6 520.6 L645.9 520.1 L647.2 519.6 L648.6 519.1 L649.9 518.6 L651.2 518.1 L652.6 517.6 L653.9 517.2 L655.3 516.7 L656.6 516.2 L657.9 515.7 L659.2 515.2 L660.6 514.7 L661.9 514.1 L663.2 513.6 L664.6 513.1 L665.9 512.7 L667.2 512.2 L668.5 511.8 L669.9 511.3 L671.2 510.8 L672.5 510.4 L673.9 509.9 L675.2 509.6 L676.6 509.2 L677.9 509 L679.2 508.8 L680.5 508.7 L681.9 508.5 L683.2 508.4 L684.5 508.3 L685.9 508.2 L687.2 508.1 L688.5 508.1 L694 509 L695.4 509.3 L696.9 509.7 L698.3 510.2 L699.7 510.7 L701.1 511.2 L702.6 511.7 L704 512.2 L705.4 512.6 L706.9 513 L708.3 513.3 L709.8 513.5 L711.2 513.8 L712.7 514 L714.1 514.2 L715.6 514.3 L717 514.5 L718.5 514.7 L719.9 514.8 L721.4 515 L722.8 515.1 L724.3 515.2 L725.7 515.4 L727.2 515.5 L728.6 515.6 L730.1 515.8 L731.5 515.9 L733 516.1 L734.4 516.3 L735.9 516.4 L737.3 516.5 L738.8 516.7 L740.2 516.8 L741.7 516.9 L743.1 516.9 L744.6 517 L746 517 L747.5 517 L748.9 517 L750.4 517 L751.8 517 L753.3 517 L754.8 517 L756.2 517 L757.7 517 L759.2 517 L760.6 517 L762.1 517 L763.5 517 L765 517 L766.3 517 L767.7 517 L769 517 L770.4 517 L771.7 517 L773.1 517 L774.4 517 L780 518.3 L783.9 523 L788.6 534 L789.9 536.9 L791.1 539.7 L792.4 542.6 L793.6 545.9 L794.9 549.8 L797.2 560.8 L797.7 578" fill="none" stroke="#f0027f" stroke-width="1.35" stroke-linejoin="round"/>
<path d="M491.3 757 L495.7 742.6 L501 734.9 L502.3 732.9 L503.6 730.9 L504.9 728.9 L506.2 726.8 L507.5 724.6 L508.8 722.3 L510.1 719.6 L511.5 716.5 L512.8 713.5 L514.2 710.8 L515.5 708.7 L520.4 704.4 L521.7 702.6 L522.9 700.3 L524.2 697.7 L525.5 695 L526.7 692.3 L528 690 L529.4 687.6 L530.8 685.4 L532.3 683.1 L533.7 681 L535.1 678.9 L536.5 676.8 L537.9 674.8 L539.3 672.8 L540.8 670.8 L542.2 668.8 L543.6 666.8 L549.4 659 L550 657.9 L551.5 655.8 L553 653.7 L554.4 651.9 L555.9 650.1 L557.4 648.4 L558.9 646.6 L560.3 644.9 L561.8 643 L563.3 640.9 L564.6 639 L566 637 L567.3 634.9 L568.6 632.8 L570 630.6 L571.3 628.3 L572.7 626 L574 623.6 L575.3 621.1 L576.7 618.4 L578 615.6 L579.3 612.7 L580.7 609.9 L582 607 L583.3 604 L584.7 601 L586 598 L587.3 594.9 L588.7 591.9 L590 588.8 L594 580 L598 571.7 L599.3 569.2 L600.7 566.8 L602 564.4 L603.3 562.1 L604.7 559.9 L606 557.8 L607.3 555.8 L608.7 553.8 L610 552 L611.3 550.2 L612.7 548.4 L614 546.8 L615.3 545.1 L616.7 543.6 L618 542.1 L619.3 540.6 L620.7 539.2 L622 537.8 L623.3 536.5 L624.7 535.3 L626 534.1 L627.3 532.9 L628.7 531.8 L630 530.7 L631.3 529.7 L632.6 528.7 L634 527.7 L635.3 526.8 L636.6 525.9 L637.9 525.1 L639.2 524.3 L640.6 523.5 L641.9 522.8 L643.2 522 L644.6 521.4 L645.9 520.7 L647.2 520.1 L648.6 519.5 L649.9 518.9 L651.2 518.4 L652.6 517.9 L653.9 517.4 L655.3 516.9 L656.6 516.4 L657.9 516 L659.2 515.6 L660.6 515.2 L661.9 514.8 L663.2 514.5 L664.6 514.1 L665.9 513.8 L667.2 513.5 L668.5 513.1 L669.9 512.8 L671.2 512.5 L672.5 512.3 L673.9 512 L675.2 511.7 L676.6 511.4 L677.9 511.1 L679.2 510.8 L680.5 510.5 L681.9 510.2 L683.2 509.8 L684.5 509.5 L685.9 509.3 L687.2 509.1 L688.5 509 L694 508.8 L695.4 508.9 L696.9 509.1 L698.3 509.4 L699.7 509.7 L701.1 510.1 L702.6 510.6 L704 511 L705.4 511.4 L706.9 511.7 L708.3 512 L709.8 512.2 L711.2 512.4 L712.7 512.6 L714.1 512.8 L715.6 512.9 L717 513.1 L718.5 513.3 L719.9 513.4 L721.4 513.5 L722.8 513.7 L724.3 513.8 L725.7 513.9 L727.2 514 L728.6 514.1 L730.1 514.2 L731.5 514.3 L733 514.4 L734.4 514.5 L735.9 514.6 L737.3 514.6 L738.8 514.7 L740.2 514.8 L741.7 514.8 L743.1 514.9 L744.6 514.9 L746 514.9 L747.5 514.9 L748.9 514.9 L750.4 514.9 L751.8 514.9 L753.3 514.9 L754.8 514.9 L756.2 514.9 L757.7 514.9 L759.2 514.9 L760.6 514.9 L762.1 514.9 L763.5 514.9 L765 514.9 L766.3 514.9 L767.7 514.9 L769 515 L770.4 515 L771.7 515.1 L773.1 515.1 L774.4 515.2 L775.7 515.3 L776.9 515.5 L778.2 515.7 L779.4 516 L780.7 516.4 L785.4 521.5 L790 532.5 L791.3 535.4 L792.6 538 L793.9 540.9 L795.2 544.6 L796.5 549.8 L797.7 560.8" fill="none" stroke="#1f3fff" stroke-width="1.6" stroke-linejoin="round"/>
<path d="M503 757 L504 752.3 L506.9 744.6 L511.7 735.8 L516.5 733 L518.5 727 L521 719.4 L522.3 716.7 L523.7 714.4 L525 712.3 L526.3 710.4 L527.7 708.5 L529 706.5 L530.4 704.3 L531.8 702 L533.2 699.7 L534.6 697.5 L536 695.3 L537.4 693.1 L538.8 691 L540.2 689 L541.6 687 L543 685.1 L544.3 683.2 L545.7 681.3 L547.1 679.4 L548.5 677.5 L549.8 675.7 L551.1 673.8 L552.4 672 L553.7 670.2 L555 668.4 L556.3 666.7 L557.7 665 L559 663.3 L560.3 661.6 L561.6 660 L563 658.2 L564.3 656.5 L565.8 654.5 L567.3 652.5 L568.7 650.4 L570.2 648.4 L571.7 646.3 L573.2 644.1 L574.6 641.9 L576.1 639.5 L577.6 637.1 L578.9 634.8 L580.3 632.4 L581.6 629.9 L582.9 627.2 L584.3 624.6 L585.6 621.8 L586.9 619.1 L588.3 616.2 L589.6 613.3 L590.9 610.3 L592.3 607.3 L593.6 604.2 L599.3 591 L603.3 581.9 L604.6 579 L606 576.2 L607.3 573.4 L608.6 570.7 L610 568.1 L611.3 565.8 L612.6 563.5 L614 561.4 L615.3 559.4 L616.6 557.5 L618 555.6 L619.3 553.9 L620.6 552.2 L622 550.7 L623.3 549.2 L624.6 547.7 L626 546.3 L627.3 544.9 L628.6 543.6 L630 542.2 L631.3 540.9 L632.6 539.6 L634 538.4 L635.3 537.1 L636.6 535.9 L638 534.7 L639.3 533.5 L640.6 532.3 L642 531.2 L643.3 530.1 L644.6 529 L646 527.9 L647.3 526.8 L648.6 525.8 L650 524.8 L651.3 523.8 L652.6 522.9 L653.9 522 L655.2 521.1 L656.6 520.2 L657.9 519.4 L659.2 518.6 L660.5 517.8 L661.9 517 L663.2 516.2 L664.5 515.5 L665.9 514.8 L667.2 514.1 L668.5 513.5 L669.9 512.9 L671.2 512.3 L672.5 511.7 L673.9 511.2 L675.2 510.7 L676.5 510.2 L677.9 509.8 L679.2 509.3 L680.5 508.9 L681.9 508.6 L683.2 508.3 L684.5 507.9 L685.9 507.6 L687.2 507.3 L688.5 507.1 L689.9 506.9 L691.2 506.9 L692.7 506.9 L694.1 506.9 L695.6 507 L697.1 507.1 L698.5 507.2 L700 507.3 L703.6 509.5 L705 510.2 L706.4 510.8 L707.7 511.4 L709.1 512 L710.5 512.5 L711.9 512.9 L713.2 513.3 L714.6 513.5 L716 513.7 L717.4 513.8 L718.8 513.9 L720.2 514 L721.6 514.1 L723 514.1 L724.4 514.2 L725.8 514.3 L727.2 514.4 L728.6 514.5 L730.1 514.6 L731.5 514.8 L733 514.9 L734.4 515 L735.9 515.2 L737.3 515.3 L738.8 515.4 L740.2 515.6 L741.7 515.7 L743.1 515.8 L744.6 515.9 L746 516 L747.5 516.1 L748.9 516.2 L750.4 516.2 L751.8 516.3 L753.3 516.4 L754.8 516.5 L756.2 516.5 L757.7 516.6 L759.2 516.6 L760.6 516.7 L762.1 516.7 L763.5 516.8 L765 516.8 L766.4 516.8 L767.9 516.9 L769.3 516.9 L770.7 516.9 L772.1 516.9 L773.6 516.9 L775 517 L776.4 517 L777.8 517 L779.3 517 L780.7 517 L782 516.9 L783.2 516.8 L784.5 516.6 L785.7 516.5 L787 516.4 L791.7 520 L796.5 526.2 L798 530" fill="none" stroke="#fff" stroke-width="1.3" stroke-linejoin="round"/>
<path d="M503 757 L504 752.3 L506.9 744.6 L511.7 735.8 L516.5 733 L518.5 727 L521 719.4 L522.3 716.7 L523.7 714.4 L525 712.3 L526.3 710.4 L527.7 708.5 L529 706.5 L530.4 704.3 L531.8 702 L533.2 699.7 L534.6 697.5 L536 695.3 L537.4 693.1 L538.8 691 L540.2 689 L541.6 687 L543 685.1 L544.3 683.2 L545.7 681.3 L547.1 679.4 L548.5 677.5 L549.8 675.7 L551.1 673.8 L552.4 672 L553.7 670.2 L555 668.4 L556.3 666.7 L557.7 665 L559 663.3 L560.3 661.6 L561.6 660 L563 658.2 L564.3 656.5 L565.8 654.5 L567.3 652.5 L568.7 650.4 L570.2 648.4 L571.7 646.3 L573.2 644.1 L574.6 641.9 L576.1 639.5 L577.6 637.1 L578.9 634.8 L580.3 632.4 L581.6 629.9 L582.9 627.2 L584.3 624.6 L585.6 621.8 L586.9 619.1 L588.3 616.2 L589.6 613.3 L590.9 610.3 L592.3 607.3 L593.6 604.2 L599.3 591 L603.3 581.9 L604.6 579 L606 576.2 L607.3 573.4 L608.6 570.7 L610 568.1 L611.3 565.8 L612.6 563.5 L614 561.4 L615.3 559.4 L616.6 557.5 L618 555.6 L619.3 553.9 L620.6 552.2 L622 550.7 L623.3 549.2 L624.6 547.7 L626 546.3 L627.3 544.9 L628.6 543.6 L630 542.2 L631.3 540.9 L632.6 539.6 L634 538.4 L635.3 537.1 L636.6 535.9 L638 534.7 L639.3 533.5 L640.6 532.3 L642 531.2 L643.3 530.1 L644.6 529 L646 527.9 L647.3 526.8 L648.6 525.8 L650 524.8 L651.3 523.8 L652.6 522.9 L653.9 522 L655.2 521.1 L656.6 520.2 L657.9 519.4 L659.2 518.6 L660.5 517.8 L661.9 517 L663.2 516.2 L664.5 515.5 L665.9 514.8 L667.2 514.1 L668.5 513.5 L669.9 512.9 L671.2 512.3 L672.5 511.7 L673.9 511.2 L675.2 510.7 L676.5 510.2 L677.9 509.8 L679.2 509.3 L680.5 508.9 L681.9 508.6 L683.2 508.3 L684.5 507.9 L685.9 507.6 L687.2 507.3 L688.5 507.1 L689.9 506.9 L691.2 506.9 L692.7 506.9 L694.1 506.9 L695.6 507 L697.1 507.1 L698.5 507.2 L700 507.3 L703.6 509.5 L705 510.2 L706.4 510.8 L707.7 511.4 L709.1 512 L710.5 512.5 L711.9 512.9 L713.2 513.3 L714.6 513.5 L716 513.7 L717.4 513.8 L718.8 513.9 L720.2 514 L721.6 514.1 L723 514.1 L724.4 514.2 L725.8 514.3 L727.2 514.4 L728.6 514.5 L730.1 514.6 L731.5 514.8 L733 514.9 L734.4 515 L735.9 515.2 L737.3 515.3 L738.8 515.4 L740.2 515.6 L741.7 515.7 L743.1 515.8 L744.6 515.9 L746 516 L747.5 516.1 L748.9 516.2 L750.4 516.2 L751.8 516.3 L753.3 516.4 L754.8 516.5 L756.2 516.5 L757.7 516.6 L759.2 516.6 L760.6 516.7 L762.1 516.7 L763.5 516.8 L765 516.8 L766.4 516.8 L767.9 516.9 L769.3 516.9 L770.7 516.9 L772.1 516.9 L773.6 516.9 L775 517 L776.4 517 L777.8 517 L779.3 517 L780.7 517 L782 516.9 L783.2 516.8 L784.5 516.6 L785.7 516.5 L787 516.4 L791.7 520 L796.5 526.2 L798 530" fill="none" stroke="#f0027f" stroke-width="2.1" stroke-dasharray="2.1 2.4" stroke-linejoin="round"/>
<path d="M502 757 L503 752.3 L505.9 744.6 L510.7 735.8 L515.5 733 L517.5 727 L520 719.4 L521.3 716.7 L522.7 714.4 L524 712.3 L525.3 710.4 L526.7 708.5 L528 706.5 L529.4 704.3 L530.8 702 L532.2 699.7 L533.6 697.5 L535 695.3 L536.4 693.1 L537.8 691 L539.2 689 L540.6 687 L542 685.1 L543.3 683.3 L544.7 681.4 L546.1 679.5 L547.5 677.5 L548.8 675.6 L550.1 673.6 L551.4 671.7 L552.7 669.7 L554 667.9 L555.3 666.2 L556.7 664.5 L558 662.9 L559.3 661.3 L560.6 659.7 L562 658.1 L563.3 656.3 L564.8 654.2 L566.3 652 L567.7 649.8 L569.2 647.5 L570.7 645.2 L572.2 642.8 L573.6 640.3 L575.1 637.8 L576.6 635.3 L577.9 633 L579.3 630.6 L580.6 628.1 L581.9 625.6 L583.3 623 L584.6 620.5 L585.9 617.9 L587.3 615.3 L588.6 612.7 L589.9 610.1 L591.3 607.4 L592.6 604.8 L594 602.2 L595.3 599.5 L596.7 596.9 L598 594.2 L599.4 591.6 L600.7 589.1 L604.6 581.9 L605.9 579.5 L607.3 577.2 L608.6 574.9 L609.9 572.6 L611.3 570.4 L612.6 568.3 L613.9 566.2 L615.3 564.1 L616.6 562.1 L617.9 560.1 L619.3 558.1 L620.6 556.3 L621.9 554.5 L623.3 552.7 L624.6 550.9 L625.9 549.3 L627.3 547.6 L628.6 546.1 L629.9 544.6 L631.3 543.1 L632.6 541.7 L633.9 540.4 L635.3 539.1 L636.6 537.8 L637.9 536.6 L639.3 535.4 L640.6 534.3 L641.9 533.2 L643.3 532.1 L644.6 531.1 L645.9 530.1 L647.3 529.2 L648.6 528.2 L649.9 527.3 L651.3 526.5 L652.6 525.6 L653.9 524.8 L655.3 524 L656.6 523.2 L657.9 522.4 L659.3 521.6 L660.6 520.9 L661.9 520.1 L663.3 519.4 L664.6 518.6 L665.9 517.9 L667.3 517.2 L668.6 516.5 L669.9 515.8 L671.3 515 L672.6 514.3 L673.9 513.6 L675.3 512.9 L676.6 512.3 L677.9 511.6 L679.3 511 L680.6 510.4 L681.9 509.8 L683.3 509.3 L684.6 508.9 L685.9 508.5 L687.2 508.1 L688.5 507.8 L689.9 507.5 L691.2 507.3 L692.5 507.2 L694 507.3 L695.5 507.4 L697 507.6 L698.5 507.8 L700 508 L703.6 508.6 L705 508.9 L706.4 509.4 L707.7 509.9 L709.1 510.4 L710.5 510.9 L711.9 511.4 L713.2 511.8 L714.6 512 L716 512.2 L717.4 512.3 L718.8 512.5 L720.2 512.6 L721.6 512.7 L723 512.8 L724.4 512.9 L725.8 512.9 L727.2 513 L728.6 513.1 L730.1 513.1 L731.5 513.2 L733 513.2 L734.4 513.3 L735.9 513.3 L737.3 513.4 L738.8 513.4 L740.2 513.5 L741.7 513.5 L743.1 513.5 L744.6 513.6 L746 513.6 L747.5 513.6 L748.9 513.7 L750.4 513.7 L751.8 513.7 L753.3 513.7 L754.8 513.8 L756.2 513.8 L757.7 513.8 L759.2 513.9 L760.6 513.9 L762.1 513.9 L763.5 514 L765 514 L766.4 514.1 L767.8 514.1 L769.2 514.2 L770.6 514.3 L772 514.4 L773.4 514.4 L774.8 514.5 L776.2 514.6 L777.6 514.7 L778.9 514.8 L780.3 514.8 L781.6 514.9 L783 514.9 L784.3 515 L785.7 515.1 L787 515.2 L791.7 518.3 L795.7 523.8 L798 530" fill="none" stroke="#fff" stroke-width="1.3" stroke-linejoin="round"/>
<path d="M502 757 L503 752.3 L505.9 744.6 L510.7 735.8 L515.5 733 L517.5 727 L520 719.4 L521.3 716.7 L522.7 714.4 L524 712.3 L525.3 710.4 L526.7 708.5 L528 706.5 L529.4 704.3 L530.8 702 L532.2 699.7 L533.6 697.5 L535 695.3 L536.4 693.1 L537.8 691 L539.2 689 L540.6 687 L542 685.1 L543.3 683.3 L544.7 681.4 L546.1 679.5 L547.5 677.5 L548.8 675.6 L550.1 673.6 L551.4 671.7 L552.7 669.7 L554 667.9 L555.3 666.2 L556.7 664.5 L558 662.9 L559.3 661.3 L560.6 659.7 L562 658.1 L563.3 656.3 L564.8 654.2 L566.3 652 L567.7 649.8 L569.2 647.5 L570.7 645.2 L572.2 642.8 L573.6 640.3 L575.1 637.8 L576.6 635.3 L577.9 633 L579.3 630.6 L580.6 628.1 L581.9 625.6 L583.3 623 L584.6 620.5 L585.9 617.9 L587.3 615.3 L588.6 612.7 L589.9 610.1 L591.3 607.4 L592.6 604.8 L594 602.2 L595.3 599.5 L596.7 596.9 L598 594.2 L599.4 591.6 L600.7 589.1 L604.6 581.9 L605.9 579.5 L607.3 577.2 L608.6 574.9 L609.9 572.6 L611.3 570.4 L612.6 568.3 L613.9 566.2 L615.3 564.1 L616.6 562.1 L617.9 560.1 L619.3 558.1 L620.6 556.3 L621.9 554.5 L623.3 552.7 L624.6 550.9 L625.9 549.3 L627.3 547.6 L628.6 546.1 L629.9 544.6 L631.3 543.1 L632.6 541.7 L633.9 540.4 L635.3 539.1 L636.6 537.8 L637.9 536.6 L639.3 535.4 L640.6 534.3 L641.9 533.2 L643.3 532.1 L644.6 531.1 L645.9 530.1 L647.3 529.2 L648.6 528.2 L649.9 527.3 L651.3 526.5 L652.6 525.6 L653.9 524.8 L655.3 524 L656.6 523.2 L657.9 522.4 L659.3 521.6 L660.6 520.9 L661.9 520.1 L663.3 519.4 L664.6 518.6 L665.9 517.9 L667.3 517.2 L668.6 516.5 L669.9 515.8 L671.3 515 L672.6 514.3 L673.9 513.6 L675.3 512.9 L676.6 512.3 L677.9 511.6 L679.3 511 L680.6 510.4 L681.9 509.8 L683.3 509.3 L684.6 508.9 L685.9 508.5 L687.2 508.1 L688.5 507.8 L689.9 507.5 L691.2 507.3 L692.5 507.2 L694 507.3 L695.5 507.4 L697 507.6 L698.5 507.8 L700 508 L703.6 508.6 L705 508.9 L706.4 509.4 L707.7 509.9 L709.1 510.4 L710.5 510.9 L711.9 511.4 L713.2 511.8 L714.6 512 L716 512.2 L717.4 512.3 L718.8 512.5 L720.2 512.6 L721.6 512.7 L723 512.8 L724.4 512.9 L725.8 512.9 L727.2 513 L728.6 513.1 L730.1 513.1 L731.5 513.2 L733 513.2 L734.4 513.3 L735.9 513.3 L737.3 513.4 L738.8 513.4 L740.2 513.5 L741.7 513.5 L743.1 513.5 L744.6 513.6 L746 513.6 L747.5 513.6 L748.9 513.7 L750.4 513.7 L751.8 513.7 L753.3 513.7 L754.8 513.8 L756.2 513.8 L757.7 513.8 L759.2 513.9 L760.6 513.9 L762.1 513.9 L763.5 514 L765 514 L766.4 514.1 L767.8 514.1 L769.2 514.2 L770.6 514.3 L772 514.4 L773.4 514.4 L774.8 514.5 L776.2 514.6 L777.6 514.7 L778.9 514.8 L780.3 514.8 L781.6 514.9 L783 514.9 L784.3 515 L785.7 515.1 L787 515.2 L791.7 518.3 L795.7 523.8 L798 530" fill="none" stroke="#1f3fff" stroke-width="2.1" stroke-dasharray="2.1 2.4" stroke-linejoin="round"/>
</g>
<rect x="465" y="404" width="334" height="354" fill="none" stroke="#000" stroke-width="2"/>
</g>
<path d="M109.4 34 H115" stroke="#000" stroke-width="1.2"/>
<path d="M109.4 104.8 H115" stroke="#000" stroke-width="1.2"/>
<path d="M109.4 175.6 H115" stroke="#000" stroke-width="1.2"/>
<path d="M109.4 246.4 H115" stroke="#000" stroke-width="1.2"/>
<path d="M109.4 317.2 H115" stroke="#000" stroke-width="1.2"/>
<path d="M109.4 388 H115" stroke="#000" stroke-width="1.2"/>
<path d="M109.4 404 H115" stroke="#000" stroke-width="1.2"/>
<path d="M109.4 474.8 H115" stroke="#000" stroke-width="1.2"/>
<path d="M109.4 545.6 H115" stroke="#000" stroke-width="1.2"/>
<path d="M109.4 616.4 H115" stroke="#000" stroke-width="1.2"/>
<path d="M109.4 687.2 H115" stroke="#000" stroke-width="1.2"/>
<path d="M109.4 758 H115" stroke="#000" stroke-width="1.2"/>
<path d="M114.8 758 V763.5" stroke="#000" stroke-width="1.2"/>
<path d="M162.5 758 V763.5" stroke="#000" stroke-width="1.2"/>
<path d="M210.2 758 V763.5" stroke="#000" stroke-width="1.2"/>
<path d="M257.9 758 V763.5" stroke="#000" stroke-width="1.2"/>
<path d="M305.7 758 V763.5" stroke="#000" stroke-width="1.2"/>
<path d="M353.4 758 V763.5" stroke="#000" stroke-width="1.2"/>
<path d="M401.1 758 V763.5" stroke="#000" stroke-width="1.2"/>
<path d="M448.8 758 V763.5" stroke="#000" stroke-width="1.2"/>
<path d="M464.8 758 V763.5" stroke="#000" stroke-width="1.2"/>
<path d="M512.5 758 V763.5" stroke="#000" stroke-width="1.2"/>
<path d="M560.2 758 V763.5" stroke="#000" stroke-width="1.2"/>
<path d="M607.9 758 V763.5" stroke="#000" stroke-width="1.2"/>
<path d="M655.7 758 V763.5" stroke="#000" stroke-width="1.2"/>
<path d="M703.4 758 V763.5" stroke="#000" stroke-width="1.2"/>
<path d="M751.1 758 V763.5" stroke="#000" stroke-width="1.2"/>
<path d="M798.8 758 V763.5" stroke="#000" stroke-width="1.2"/>
<text x="105.5" y="40.5" font-size="18.4" font-family="&quot;Liberation Sans&quot;, sans-serif" text-anchor="end"  stroke="#000" stroke-width="0.35">1</text>
<text x="105.5" y="111.2" font-size="18.4" font-family="&quot;Liberation Sans&quot;, sans-serif" text-anchor="end"  stroke="#000" stroke-width="0.35">0.1</text>
<text x="105.5" y="182" font-size="18.4" font-family="&quot;Liberation Sans&quot;, sans-serif" text-anchor="end"  stroke="#000" stroke-width="0.35">0.01</text>
<text x="105.5" y="252.8" font-size="18.4" font-family="&quot;Liberation Sans&quot;, sans-serif" text-anchor="end"  stroke="#000" stroke-width="0.35">0.001</text>
<text x="105.5" y="323.6" font-size="18.4" font-family="&quot;Liberation Sans&quot;, sans-serif" text-anchor="end"  stroke="#000" stroke-width="0.35">0.0001</text>
<text x="105.5" y="410.4" font-size="18.4" font-family="&quot;Liberation Sans&quot;, sans-serif" text-anchor="end"  stroke="#000" stroke-width="0.35">1</text>
<text x="105.5" y="481.2" font-size="18.4" font-family="&quot;Liberation Sans&quot;, sans-serif" text-anchor="end"  stroke="#000" stroke-width="0.35">0.1</text>
<text x="105.5" y="552.1" font-size="18.4" font-family="&quot;Liberation Sans&quot;, sans-serif" text-anchor="end"  stroke="#000" stroke-width="0.35">0.01</text>
<text x="105.5" y="622.9" font-size="18.4" font-family="&quot;Liberation Sans&quot;, sans-serif" text-anchor="end"  stroke="#000" stroke-width="0.35">0.001</text>
<text x="105.5" y="693.7" font-size="18.4" font-family="&quot;Liberation Sans&quot;, sans-serif" text-anchor="end"  stroke="#000" stroke-width="0.35">0.0001</text>
<text x="162.8" y="779.8" font-size="18.4" font-family="&quot;Liberation Sans&quot;, sans-serif" text-anchor="middle"  stroke="#000" stroke-width="0.35">40</text>
<text x="210.5" y="779.8" font-size="18.4" font-family="&quot;Liberation Sans&quot;, sans-serif" text-anchor="middle"  stroke="#000" stroke-width="0.35">50</text>
<text x="258.2" y="779.8" font-size="18.4" font-family="&quot;Liberation Sans&quot;, sans-serif" text-anchor="middle"  stroke="#000" stroke-width="0.35">60</text>
<text x="306" y="779.8" font-size="18.4" font-family="&quot;Liberation Sans&quot;, sans-serif" text-anchor="middle"  stroke="#000" stroke-width="0.35">70</text>
<text x="353.7" y="779.8" font-size="18.4" font-family="&quot;Liberation Sans&quot;, sans-serif" text-anchor="middle"  stroke="#000" stroke-width="0.35">80</text>
<text x="401.4" y="779.8" font-size="18.4" font-family="&quot;Liberation Sans&quot;, sans-serif" text-anchor="middle"  stroke="#000" stroke-width="0.35">90</text>
<text x="449.1" y="779.8" font-size="18.4" font-family="&quot;Liberation Sans&quot;, sans-serif" text-anchor="middle"  stroke="#000" stroke-width="0.35">100</text>
<text x="512.8" y="779.8" font-size="18.4" font-family="&quot;Liberation Sans&quot;, sans-serif" text-anchor="middle"  stroke="#000" stroke-width="0.35">40</text>
<text x="560.5" y="779.8" font-size="18.4" font-family="&quot;Liberation Sans&quot;, sans-serif" text-anchor="middle"  stroke="#000" stroke-width="0.35">50</text>
<text x="608.2" y="779.8" font-size="18.4" font-family="&quot;Liberation Sans&quot;, sans-serif" text-anchor="middle"  stroke="#000" stroke-width="0.35">60</text>
<text x="656" y="779.8" font-size="18.4" font-family="&quot;Liberation Sans&quot;, sans-serif" text-anchor="middle"  stroke="#000" stroke-width="0.35">70</text>
<text x="703.7" y="779.8" font-size="18.4" font-family="&quot;Liberation Sans&quot;, sans-serif" text-anchor="middle"  stroke="#000" stroke-width="0.35">80</text>
<text x="751.4" y="779.8" font-size="18.4" font-family="&quot;Liberation Sans&quot;, sans-serif" text-anchor="middle"  stroke="#000" stroke-width="0.35">90</text>
<text x="799.1" y="779.8" font-size="18.4" font-family="&quot;Liberation Sans&quot;, sans-serif" text-anchor="middle"  stroke="#000" stroke-width="0.35">100</text>
<text x="345.9" y="811.9" font-size="26.1" font-family="&quot;Liberation Sans&quot;, sans-serif" text-anchor="start"  stroke="#000" stroke-width="0.2">Relative humidity (%)</text>
<g transform="translate(29.05 566.5) rotate(-90)"><text x="0" y="0" font-size="32" font-family="&quot;Liberation Sans&quot;, sans-serif" text-anchor="start"  stroke="#000" stroke-width="0.2">Fraction of marine cover</text></g>
<text transform="translate(0 26.4) scale(1.0 1)" x="252 276.6 296.5" y="0" font-size="27" font-family="&quot;DejaVu Sans Light&quot;, &quot;DejaVu Sans&quot;, &quot;Liberation Sans&quot;, sans-serif" font-weight="200" stroke="#000" stroke-width="0.3" xml:space="preserve">WRF</text>
<text transform="translate(0 26.4) scale(1.06 1)" x="533.5 554.1 570.9 587.3 606.2 622.6 645.8" y="0" font-size="26.6" font-family="&quot;DejaVu Sans Light&quot;, &quot;DejaVu Sans&quot;, &quot;Liberation Sans&quot;, sans-serif" font-weight="200" stroke="#000" stroke-width="0.3" xml:space="preserve">HadGEM2</text>
<text transform="translate(834.4 0) rotate(-90) scale(1.06 1)" x="-273.3 -254.6 -239.3 -221.1 -209.1 -199.8" y="0" font-size="30" font-family="&quot;DejaVu Sans Light&quot;, &quot;DejaVu Sans&quot;, &quot;Liberation Sans&quot;, sans-serif" font-weight="200" stroke="#000" stroke-width="0.3" xml:space="preserve">Arctic</text>
<text transform="translate(834.6 0) rotate(-90) scale(1.1 1)" x="-600.7 -579.1 -570.1 -550 -539.3 -530.3 -511.8 -492.2 -481.3 -472.2" y="0" font-size="30" font-family="&quot;DejaVu Sans Light&quot;, &quot;DejaVu Sans&quot;, &quot;Liberation Sans&quot;, sans-serif" font-weight="200" stroke="#000" stroke-width="0.3" xml:space="preserve">N.Atlantic</text>
<text transform="translate(0 77.2) scale(1.1 1)" x="102 112.4 130.8" y="0" font-size="37" font-family="&quot;DejaVu Sans Light&quot;, &quot;DejaVu Sans&quot;, &quot;Liberation Sans&quot;, sans-serif" font-weight="200" stroke="#000" stroke-width="0.1" xml:space="preserve">(a)</text>
<text transform="translate(0 75.2) scale(1.1 1)" x="420.2 429 449" y="0" font-size="37" font-family="&quot;DejaVu Sans Light&quot;, &quot;DejaVu Sans&quot;, &quot;Liberation Sans&quot;, sans-serif" font-weight="200" stroke="#000" stroke-width="0.1" xml:space="preserve">(b)</text>
<text transform="translate(0 445.2) scale(1.1 1)" x="102 112.7 130.8" y="0" font-size="37" font-family="&quot;DejaVu Sans Light&quot;, &quot;DejaVu Sans&quot;, &quot;Liberation Sans&quot;, sans-serif" font-weight="200" stroke="#000" stroke-width="0.1" xml:space="preserve">(c)</text>
<text transform="translate(0 445.2) scale(1.1 1)" x="421.6 430.3 450.8" y="0" font-size="37" font-family="&quot;DejaVu Sans Light&quot;, &quot;DejaVu Sans&quot;, &quot;Liberation Sans&quot;, sans-serif" font-weight="200" stroke="#000" stroke-width="0.1" xml:space="preserve">(d)</text>
<path d="M529 66 H569.2" stroke="#f0027f" stroke-width="2"/>
<path d="M529 96 H569.2" stroke="#1f3fff" stroke-width="2"/>
<text transform="translate(0 76.1) scale(1.14 1)" x="508.5 525.7 543.4 560.9 578 594.5 604.8 621.4 637.6 654.8" y="0" font-size="27" font-family="&quot;DejaVu Sans Light&quot;, &quot;DejaVu Sans&quot;, &quot;Liberation Sans&quot;, sans-serif" font-weight="200" stroke="#000" stroke-width="0.12" xml:space="preserve">2006 to 35</text>
<text transform="translate(0 106.1) scale(1.14 1)" x="508.5 525.7 543.6 560.4 577.6 594.5 604.8 621.4 636.6 654.5" y="0" font-size="27" font-family="&quot;DejaVu Sans Light&quot;, &quot;DejaVu Sans&quot;, &quot;Liberation Sans&quot;, sans-serif" font-weight="200" stroke="#000" stroke-width="0.12" xml:space="preserve">2069 to 98</text>
<path d="M179 441 H219.2" stroke="#000" stroke-width="2"/>
<path d="M178 471 H218" stroke="#000" stroke-width="2" stroke-dasharray="3 6"/>
<text x="247.2" y="451.7" font-size="26" font-family="&quot;Liberation Sans&quot;, sans-serif" text-anchor="start"  stroke="#000" stroke-width="0.2">Calibrated</text>
<text x="232.2" y="481.6" font-size="26" font-family="&quot;Liberation Sans&quot;, sans-serif" text-anchor="start"  stroke="#000" stroke-width="0.2">Uncalibrated</text>
<rect x="519" y="430.6" width="20.3" height="20" fill="#f0027f"/>
<rect x="519" y="460.8" width="20.3" height="20" fill="#1f3fff"/>
<text transform="translate(0 451.3) scale(1.14 1)" x="481.4 499.4 521.6 536.3 554.1 577.5 594.3 612.1 634 648.2 666" y="0" font-size="27.2" font-family="&quot;DejaVu Sans Light&quot;, &quot;DejaVu Sans&quot;, &quot;Liberation Sans&quot;, sans-serif" font-weight="200" stroke="#000" stroke-width="0.12" xml:space="preserve">06/35-69/98</text>
<text transform="translate(0 453.6) scale(1.14 1)" x="520.3" y="0" font-size="35" font-family="&quot;DejaVu Sans Light&quot;, &quot;DejaVu Sans&quot;, &quot;Liberation Sans&quot;, sans-serif" font-weight="200" xml:space="preserve">/</text>
<text transform="translate(0 453.6) scale(1.14 1)" x="632.7" y="0" font-size="35" font-family="&quot;DejaVu Sans Light&quot;, &quot;DejaVu Sans&quot;, &quot;Liberation Sans&quot;, sans-serif" font-weight="200" xml:space="preserve">/</text>
<text transform="translate(0 451.7) scale(2.2 1)" x="296.4" y="0" font-size="30" font-family="&quot;DejaVu Sans Light&quot;, &quot;DejaVu Sans&quot;, &quot;Liberation Sans&quot;, sans-serif" font-weight="200" xml:space="preserve">-</text>
<text transform="translate(0 481.3) scale(1.14 1)" x="481.2 499.4 521.6 535.7 553.9 577.5 594.5 612.1 634 648.7 666.2" y="0" font-size="27.2" font-family="&quot;DejaVu Sans Light&quot;, &quot;DejaVu Sans&quot;, &quot;Liberation Sans&quot;, sans-serif" font-weight="200" stroke="#000" stroke-width="0.12" xml:space="preserve">69/98-06/35</text>
<text transform="translate(0 483.6) scale(1.14 1)" x="520.3" y="0" font-size="35" font-family="&quot;DejaVu Sans Light&quot;, &quot;DejaVu Sans&quot;, &quot;Liberation Sans&quot;, sans-serif" font-weight="200" xml:space="preserve">/</text>
<text transform="translate(0 483.6) scale(1.14 1)" x="632.7" y="0" font-size="35" font-family="&quot;DejaVu Sans Light&quot;, &quot;DejaVu Sans&quot;, &quot;Liberation Sans&quot;, sans-serif" font-weight="200" xml:space="preserve">/</text>
<text transform="translate(0 481.7) scale(2.2 1)" x="296.4" y="0" font-size="30" font-family="&quot;DejaVu Sans Light&quot;, &quot;DejaVu Sans&quot;, &quot;Liberation Sans&quot;, sans-serif" font-weight="200" xml:space="preserve">-</text>
</svg>
</body>
</html>
